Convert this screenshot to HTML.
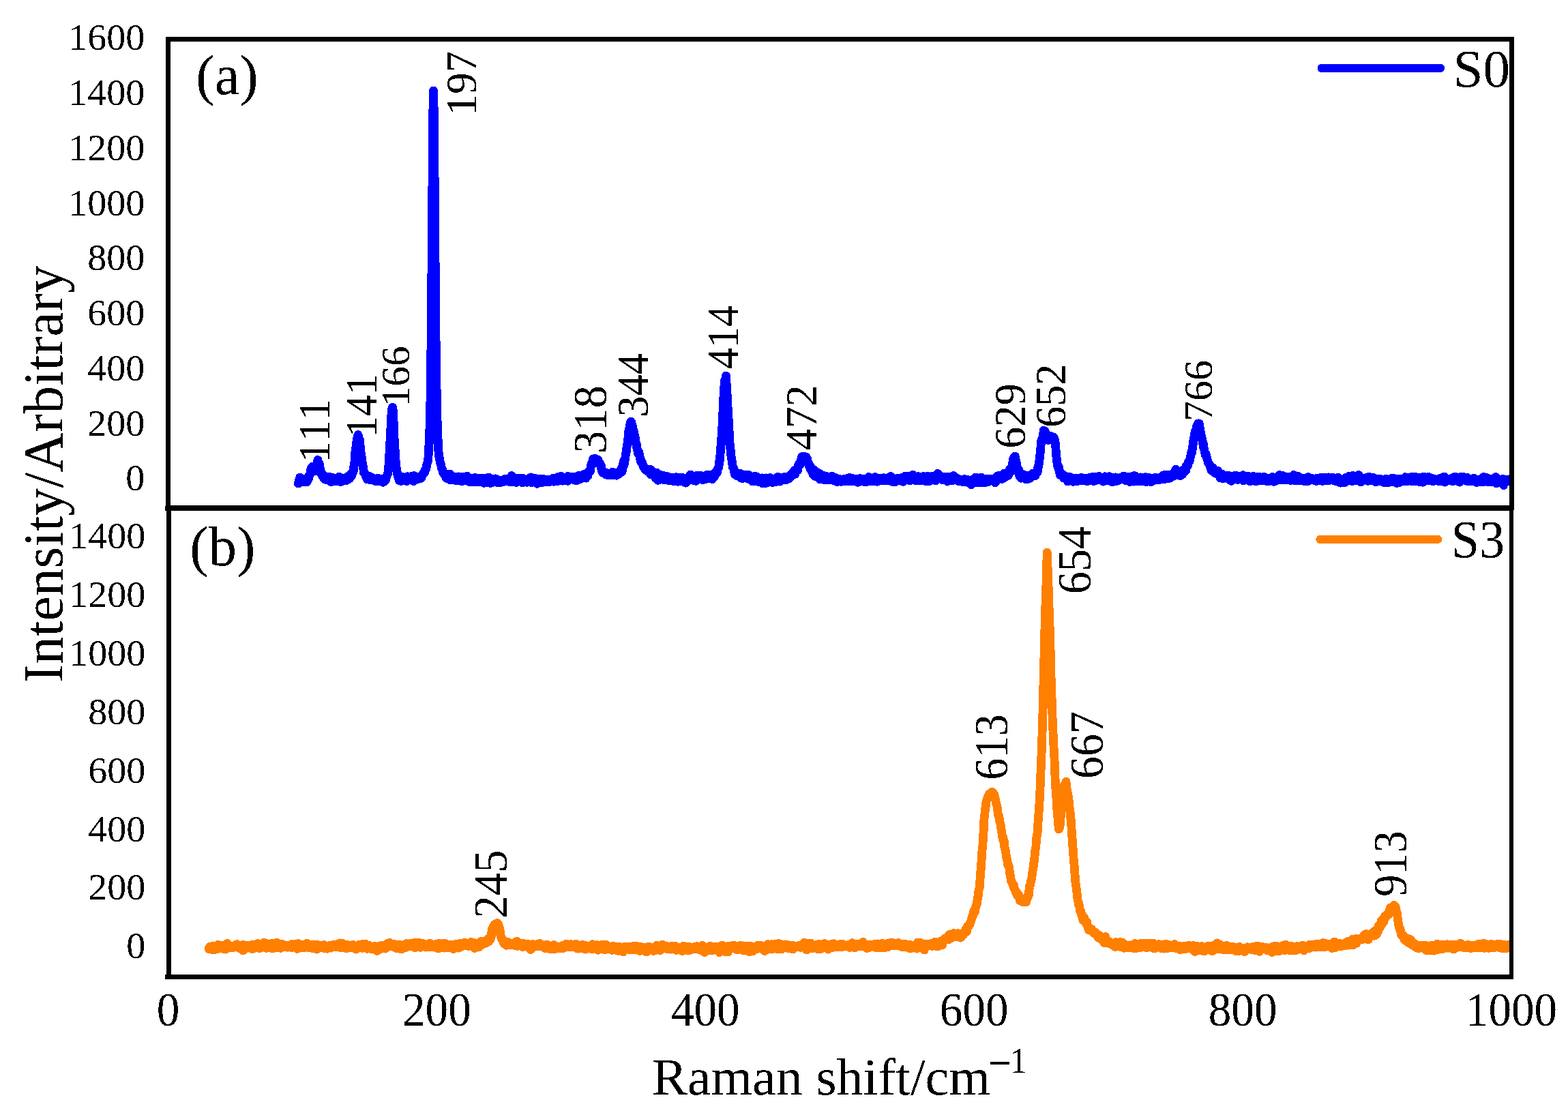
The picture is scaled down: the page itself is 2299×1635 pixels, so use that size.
<!DOCTYPE html>
<html lang="en"><head><meta charset="utf-8"><title>Raman spectra of S0 and S3</title>
<style>
html,body{margin:0;padding:0;background:#fff;}
body{width:2299px;height:1635px;overflow:hidden;}
svg{display:block;}
text{font-family:"Liberation Serif","DejaVu Serif",serif;fill:#000;font-kerning:none;font-variant-ligatures:none;}
</style></head><body>
<svg width="2299" height="1635" viewBox="0 0 2299 1635" role="img" aria-label="Raman spectra of samples S0 and S3">
<rect x="0" y="0" width="2299" height="1635" fill="#fff"/>
<defs>
<clipPath id="ct"><rect x="250" y="61" width="1963" height="680"/></clipPath>
<clipPath id="cb"><rect x="251" y="749" width="1962" height="680"/></clipPath>
<filter id="bw" filterUnits="userSpaceOnUse" x="0" y="0" width="2299" height="1635" color-interpolation-filters="sRGB"><feComponentTransfer><feFuncA type="discrete" tableValues="0 1"/></feComponentTransfer></filter>
</defs>
<g filter="url(#bw)">
<g clip-path="url(#ct)"><path d="M437.4 709.0L438.1 704.9L438.9 704.5L439.6 700.2L440.4 705.4L441.1 704.8L441.9 704.3L442.6 705.8L443.4 706.0L444.1 703.0L444.9 703.3L445.6 704.0L446.4 706.2L447.1 705.8L447.9 701.9L448.6 702.1L449.4 705.5L450.1 706.8L450.9 702.8L451.6 700.4L452.4 702.3L453.1 697.4L453.9 696.8L454.6 695.3L455.4 690.4L456.1 686.8L456.9 686.8L457.6 684.2L458.4 686.4L459.1 687.4L459.9 689.9L460.6 690.4L461.4 691.0L462.1 689.4L462.9 688.1L463.6 685.2L464.4 682.5L465.1 682.0L465.9 674.5L466.6 680.1L467.4 678.5L468.1 679.3L468.9 684.6L469.6 688.6L470.4 693.7L471.1 692.1L471.9 696.8L472.6 698.1L473.4 695.7L474.1 697.4L474.9 701.5L475.6 702.1L476.4 703.2L477.1 702.3L477.9 702.2L478.6 701.8L479.4 704.0L480.1 700.1L480.9 701.6L481.6 702.8L482.4 699.0L483.1 704.9L483.9 700.8L484.6 702.3L485.4 706.8L486.1 701.0L486.9 701.6L487.6 705.8L488.4 700.6L489.1 702.0L489.9 704.0L490.6 704.0L491.4 704.3L492.1 703.9L492.9 705.8L493.6 705.2L494.4 704.4L495.1 701.8L495.9 701.8L496.6 699.4L497.4 704.6L498.1 699.5L498.9 704.9L499.6 706.8L500.4 701.0L501.1 701.6L501.9 702.0L502.6 704.5L503.4 701.1L504.1 702.5L504.9 701.6L505.6 702.0L506.4 705.0L507.1 700.3L507.9 702.2L508.6 702.3L509.4 703.3L510.1 698.7L510.9 703.1L511.6 701.5L512.4 701.9L513.1 699.7L513.9 695.6L514.6 696.5L515.4 698.0L516.1 694.6L516.9 692.0L517.6 692.7L518.4 689.6L519.1 680.5L519.9 678.8L520.6 664.6L521.4 657.5L522.1 656.2L522.9 647.2L523.6 643.3L524.4 639.6L525.1 637.5L525.9 640.6L526.6 643.2L527.4 644.9L528.1 654.4L528.9 660.7L529.6 670.1L530.4 670.1L531.1 677.8L531.9 681.6L532.6 686.1L533.4 692.9L534.1 693.0L534.9 693.5L535.6 696.4L536.4 698.9L537.1 696.4L537.9 698.7L538.6 703.0L539.4 702.1L540.1 700.8L540.9 700.3L541.6 701.2L542.4 698.7L543.1 704.0L543.9 703.0L544.6 702.8L545.4 700.1L546.1 701.5L546.9 704.1L547.6 703.7L548.4 702.4L549.1 704.5L549.9 705.5L550.6 702.4L551.4 702.7L552.1 702.1L552.9 701.6L553.6 705.6L554.4 705.1L555.1 704.8L555.9 701.8L556.6 702.1L557.4 703.9L558.1 703.2L558.9 704.2L559.6 702.5L560.4 705.1L561.1 707.3L561.9 706.7L562.6 706.6L563.4 703.3L564.1 704.7L564.9 701.6L565.6 703.7L566.4 700.2L567.1 698.5L567.9 695.8L568.6 694.6L569.4 688.0L570.1 679.4L570.9 665.6L571.6 654.3L572.4 635.4L573.1 625.2L573.9 608.1L574.6 599.6L575.4 597.1L576.1 600.1L576.9 612.4L577.6 630.4L578.4 649.4L579.1 659.1L579.9 672.3L580.6 683.2L581.4 686.8L582.1 691.4L582.9 696.8L583.6 699.3L584.4 699.7L585.1 704.3L585.9 701.3L586.6 702.6L587.4 705.3L588.1 705.6L588.9 699.1L589.6 701.6L590.4 704.7L591.1 699.6L591.9 700.6L592.6 699.9L593.4 699.8L594.1 700.3L594.9 702.9L595.6 705.1L596.4 705.7L597.1 702.6L597.9 698.7L598.6 702.5L599.4 701.9L600.1 703.3L600.9 702.3L601.6 699.0L602.4 703.4L603.1 698.4L603.9 701.1L604.6 703.1L605.4 703.2L606.1 705.6L606.9 697.6L607.6 702.9L608.4 703.6L609.1 701.4L609.9 703.3L610.6 699.7L611.4 703.0L612.1 702.6L612.9 699.3L613.6 699.6L614.4 700.2L615.1 698.9L615.9 701.9L616.6 699.7L617.4 701.5L618.1 700.6L618.9 697.7L619.6 696.4L620.4 694.0L621.1 693.2L621.9 692.0L622.6 692.9L623.4 688.8L624.1 688.7L624.9 686.5L625.6 682.2L626.4 679.2L627.1 677.9L627.9 671.9L628.6 658.1L629.4 645.5L630.1 623.3L630.9 589.1L631.6 541.0L632.4 467.0L633.1 375.8L633.9 273.5L634.6 177.2L635.4 133.0L636.1 156.6L636.9 232.5L637.6 325.4L638.4 419.6L639.1 499.1L639.9 559.1L640.6 600.4L641.4 626.7L642.1 644.1L642.9 661.7L643.6 668.7L644.4 671.7L645.1 677.0L645.9 680.6L646.6 681.0L647.4 687.2L648.1 687.0L648.9 689.7L649.6 693.2L650.4 692.7L651.1 695.1L651.9 695.8L652.6 695.9L653.4 696.7L654.1 701.0L654.9 697.5L655.6 701.7L656.4 697.0L657.1 700.7L657.9 700.0L658.6 698.6L659.4 695.0L660.1 703.8L660.9 698.6L661.6 699.1L662.4 701.5L663.1 701.5L663.9 702.1L664.6 701.2L665.4 698.9L666.1 703.7L666.9 700.3L667.6 702.6L668.4 703.5L669.1 704.8L669.9 702.0L670.6 701.9L671.4 702.1L672.1 698.8L672.9 701.0L673.6 700.6L674.4 700.4L675.1 703.0L675.9 702.1L676.6 705.9L677.4 705.8L678.1 699.0L678.9 703.0L679.6 700.8L680.4 704.0L681.1 703.3L681.9 704.8L682.6 703.6L683.4 704.6L684.1 702.5L684.9 698.1L685.6 700.8L686.4 701.4L687.1 702.2L687.9 701.2L688.6 706.6L689.4 703.0L690.1 706.0L690.9 702.8L691.6 706.8L692.4 701.1L693.1 704.7L693.9 700.9L694.6 704.5L695.4 706.8L696.1 700.4L696.9 702.0L697.6 704.3L698.4 703.4L699.1 701.2L699.9 706.2L700.6 704.0L701.4 706.6L702.1 704.6L702.9 701.7L703.6 703.1L704.4 706.9L705.1 701.4L705.9 703.2L706.6 705.4L707.4 706.3L708.1 705.9L708.9 701.3L709.6 708.4L710.4 703.9L711.1 704.3L711.9 704.4L712.6 703.9L713.4 702.5L714.1 703.8L714.9 707.2L715.6 701.9L716.4 699.8L717.1 705.8L717.9 705.4L718.6 706.2L719.4 708.3L720.1 703.4L720.9 705.2L721.6 705.9L722.4 707.3L723.1 706.9L723.9 703.2L724.6 702.2L725.4 704.4L726.1 701.8L726.9 707.2L727.6 704.2L728.4 704.3L729.1 703.2L729.9 708.0L730.6 705.4L731.4 704.0L732.1 706.0L732.9 704.6L733.6 705.9L734.4 707.3L735.1 704.0L735.9 705.6L736.6 705.4L737.4 706.6L738.1 705.5L738.9 704.3L739.6 703.0L740.4 704.8L741.1 702.1L741.9 705.5L742.6 704.3L743.4 705.2L744.1 703.0L744.9 702.5L745.6 702.3L746.4 706.4L747.1 703.7L747.9 703.7L748.6 700.7L749.4 704.2L750.1 697.5L750.9 707.2L751.6 704.0L752.4 704.6L753.1 701.7L753.9 702.5L754.6 705.9L755.4 704.3L756.1 705.7L756.9 707.4L757.6 706.3L758.4 701.3L759.1 703.1L759.9 702.8L760.6 703.3L761.4 701.0L762.1 701.0L762.9 703.7L763.6 704.0L764.4 706.2L765.1 704.5L765.9 707.9L766.6 701.3L767.4 702.2L768.1 705.5L768.9 704.4L769.6 702.9L770.4 706.4L771.1 707.0L771.9 707.3L772.6 703.8L773.4 704.6L774.1 704.9L774.9 704.5L775.6 706.4L776.4 703.4L777.1 705.1L777.9 699.9L778.6 705.8L779.4 707.6L780.1 704.3L780.9 706.4L781.6 701.0L782.4 703.6L783.1 701.3L783.9 705.0L784.6 705.4L785.4 701.7L786.1 702.7L786.9 703.3L787.6 709.3L788.4 704.3L789.1 704.8L789.9 705.3L790.6 705.2L791.4 704.1L792.1 701.9L792.9 703.2L793.6 707.9L794.4 705.1L795.1 703.9L795.9 701.9L796.6 704.5L797.4 704.6L798.1 703.2L798.9 706.3L799.6 703.3L800.4 704.2L801.1 706.2L801.9 705.0L802.6 706.7L803.4 703.9L804.1 703.5L804.9 705.2L805.6 704.7L806.4 706.5L807.1 704.9L807.9 704.0L808.6 704.9L809.4 705.3L810.1 701.7L810.9 703.7L811.6 703.3L812.4 706.2L813.1 702.9L813.9 705.9L814.6 701.2L815.4 703.5L816.1 705.7L816.9 703.0L817.6 705.8L818.4 699.4L819.1 703.4L819.9 703.7L820.6 703.1L821.4 700.3L822.1 704.6L822.9 698.5L823.6 705.1L824.4 703.7L825.1 705.1L825.9 702.5L826.6 700.7L827.4 701.9L828.1 701.9L828.9 703.9L829.6 702.1L830.4 703.5L831.1 703.6L831.9 705.4L832.6 698.4L833.4 701.4L834.1 703.5L834.9 703.5L835.6 700.8L836.4 701.3L837.1 701.5L837.9 701.9L838.6 700.4L839.4 700.1L840.1 699.0L840.9 700.3L841.6 703.7L842.4 699.0L843.1 702.7L843.9 704.4L844.6 700.8L845.4 704.9L846.1 699.9L846.9 703.3L847.6 699.8L848.4 697.3L849.1 700.2L849.9 703.1L850.6 698.0L851.4 700.0L852.1 696.8L852.9 696.8L853.6 699.3L854.4 697.8L855.1 699.1L855.9 700.3L856.6 695.1L857.4 695.8L858.1 697.0L858.9 701.1L859.6 695.4L860.4 694.4L861.1 695.5L861.9 697.9L862.6 691.5L863.4 690.8L864.1 690.1L864.9 690.0L865.6 691.1L866.4 682.5L867.1 679.7L867.9 681.4L868.6 680.3L869.4 673.1L870.1 674.9L870.9 676.7L871.6 672.5L872.4 673.6L873.1 672.5L873.9 673.4L874.6 673.3L875.4 673.7L876.1 676.7L876.9 674.2L877.6 676.7L878.4 680.0L879.1 678.2L879.9 680.4L880.6 681.4L881.4 682.8L882.1 690.4L882.9 689.0L883.6 693.3L884.4 692.2L885.1 692.0L885.9 692.1L886.6 693.9L887.4 693.8L888.1 696.1L888.9 692.9L889.6 695.2L890.4 696.0L891.1 694.8L891.9 694.9L892.6 696.5L893.4 696.6L894.1 695.2L894.9 695.4L895.6 694.3L896.4 696.5L897.1 695.1L897.9 692.2L898.6 694.6L899.4 696.4L900.1 695.7L900.9 693.2L901.6 696.3L902.4 695.9L903.1 695.7L903.9 697.3L904.6 693.3L905.4 694.9L906.1 692.8L906.9 694.9L907.6 694.8L908.4 692.8L909.1 692.6L909.9 688.8L910.6 690.7L911.4 686.1L912.1 691.5L912.9 688.0L913.6 680.7L914.4 676.2L915.1 681.5L915.9 674.2L916.6 673.4L917.4 665.5L918.1 663.4L918.9 656.6L919.6 653.1L920.4 644.8L921.1 641.8L921.9 631.0L922.6 629.6L923.4 623.0L924.1 622.1L924.9 618.0L925.6 618.5L926.4 625.7L927.1 623.3L927.9 627.7L928.6 630.7L929.4 632.9L930.1 638.6L930.9 638.9L931.6 643.0L932.4 650.8L933.1 650.8L933.9 657.2L934.6 660.2L935.4 664.8L936.1 665.4L936.9 663.4L937.6 668.1L938.4 670.9L939.1 676.3L939.9 676.4L940.6 676.5L941.4 679.9L942.1 679.9L942.9 683.1L943.6 683.6L944.4 686.6L945.1 686.1L945.9 688.4L946.6 687.3L947.4 689.5L948.1 688.6L948.9 690.9L949.6 690.7L950.4 690.6L951.1 690.6L951.9 691.3L952.6 693.3L953.4 688.3L954.1 695.9L954.9 689.1L955.6 693.8L956.4 693.9L957.1 696.3L957.9 695.7L958.6 695.4L959.4 696.0L960.1 698.0L960.9 701.1L961.6 697.4L962.4 692.8L963.1 696.4L963.9 698.3L964.6 704.3L965.4 696.5L966.1 697.5L966.9 699.7L967.6 699.4L968.4 696.4L969.1 701.1L969.9 696.8L970.6 699.1L971.4 702.5L972.1 697.4L972.9 699.6L973.6 703.8L974.4 700.2L975.1 698.7L975.9 699.8L976.6 702.8L977.4 698.2L978.1 700.2L978.9 698.7L979.6 699.4L980.4 704.5L981.1 701.9L981.9 701.2L982.6 703.2L983.4 701.0L984.1 700.1L984.9 704.9L985.6 704.5L986.4 701.2L987.1 704.4L987.9 705.9L988.6 704.1L989.4 704.2L990.1 700.8L990.9 703.1L991.6 699.7L992.4 705.7L993.1 703.1L993.9 706.2L994.6 702.0L995.4 705.4L996.1 700.4L996.9 702.8L997.6 704.6L998.4 704.3L999.1 703.4L999.9 700.1L1000.6 706.0L1001.4 704.6L1002.1 705.4L1002.9 705.3L1003.6 702.2L1004.4 703.7L1005.1 708.2L1005.9 701.0L1006.6 703.3L1007.4 701.2L1008.1 705.7L1008.9 702.5L1009.6 699.9L1010.4 700.6L1011.1 698.8L1011.9 696.9L1012.6 695.9L1013.4 699.8L1014.1 698.9L1014.9 701.4L1015.6 699.3L1016.4 701.3L1017.1 704.4L1017.9 698.3L1018.6 698.1L1019.4 702.6L1020.1 705.3L1020.9 698.8L1021.6 697.1L1022.4 699.9L1023.1 699.7L1023.9 701.9L1024.7 698.4L1025.4 700.1L1026.2 699.9L1026.9 697.4L1027.7 697.5L1028.4 701.6L1029.2 701.8L1029.9 699.1L1030.7 703.9L1031.4 702.6L1032.2 701.7L1032.9 702.0L1033.7 701.4L1034.4 702.0L1035.2 702.3L1035.9 700.6L1036.7 696.1L1037.4 699.9L1038.2 698.4L1038.9 697.6L1039.7 701.0L1040.4 696.0L1041.2 701.0L1041.9 697.7L1042.7 696.2L1043.4 696.5L1044.2 702.7L1044.9 700.5L1045.7 696.5L1046.4 698.7L1047.2 699.6L1047.9 693.5L1048.7 693.8L1049.4 695.3L1050.2 693.1L1050.9 690.1L1051.7 692.4L1052.4 687.9L1053.2 685.6L1053.9 685.2L1054.7 676.7L1055.4 675.3L1056.2 663.3L1056.9 653.7L1057.7 644.0L1058.4 633.6L1059.2 619.8L1059.9 604.7L1060.7 586.1L1061.4 572.8L1062.2 562.6L1062.9 556.8L1063.7 555.8L1064.4 551.0L1065.2 563.6L1065.9 574.6L1066.7 588.9L1067.4 603.9L1068.2 615.8L1068.9 627.9L1069.7 644.4L1070.4 654.2L1071.2 660.6L1071.9 668.5L1072.7 673.3L1073.4 676.7L1074.2 684.7L1074.9 685.0L1075.7 686.5L1076.4 689.4L1077.2 695.5L1077.9 694.3L1078.7 694.7L1079.4 695.2L1080.2 697.4L1080.9 697.7L1081.7 694.0L1082.4 696.7L1083.2 696.2L1083.9 698.3L1084.7 698.0L1085.4 694.3L1086.2 700.9L1086.9 699.3L1087.7 695.4L1088.4 701.5L1089.2 699.6L1089.9 700.5L1090.7 699.7L1091.4 700.1L1092.2 698.9L1092.9 696.7L1093.7 699.0L1094.4 700.8L1095.2 700.6L1095.9 702.0L1096.7 700.6L1097.4 696.4L1098.2 702.6L1098.9 699.5L1099.7 698.6L1100.4 700.9L1101.2 698.9L1101.9 702.5L1102.7 700.1L1103.4 706.0L1104.2 701.7L1104.9 701.2L1105.7 701.2L1106.4 698.3L1107.2 701.1L1107.9 701.5L1108.7 702.5L1109.4 698.8L1110.2 703.5L1110.9 706.2L1111.7 702.8L1112.4 703.6L1113.2 704.7L1113.9 702.4L1114.7 703.2L1115.4 706.1L1116.2 704.7L1116.9 701.9L1117.7 700.8L1118.4 709.2L1119.2 705.5L1119.9 701.4L1120.7 705.0L1121.4 706.1L1122.2 705.0L1122.9 700.9L1123.7 708.4L1124.4 706.0L1125.2 704.4L1125.9 706.3L1126.7 704.4L1127.4 704.2L1128.2 706.7L1128.9 700.7L1129.7 706.8L1130.4 705.6L1131.2 706.2L1131.9 706.4L1132.7 707.7L1133.4 707.4L1134.2 706.1L1134.9 703.5L1135.7 705.6L1136.4 703.1L1137.2 702.1L1137.9 704.9L1138.7 704.6L1139.4 706.2L1140.2 699.4L1140.9 704.8L1141.7 704.8L1142.4 703.5L1143.2 706.2L1143.9 701.2L1144.7 703.5L1145.4 701.9L1146.2 702.4L1146.9 700.2L1147.7 701.7L1148.4 703.2L1149.2 701.8L1149.9 702.0L1150.7 699.5L1151.4 704.1L1152.2 699.2L1152.9 700.4L1153.7 701.2L1154.4 699.3L1155.2 701.0L1155.9 699.5L1156.7 702.2L1157.4 699.4L1158.2 698.7L1158.9 695.9L1159.7 698.0L1160.4 698.6L1161.2 696.9L1161.9 693.6L1162.7 693.7L1163.4 693.7L1164.2 693.4L1164.9 689.7L1165.7 695.4L1166.4 690.5L1167.2 689.9L1167.9 687.6L1168.7 687.3L1169.4 689.9L1170.2 682.7L1170.9 682.1L1171.7 679.5L1172.4 678.8L1173.2 681.3L1173.9 675.3L1174.7 673.9L1175.4 669.7L1176.2 671.2L1176.9 671.3L1177.7 669.2L1178.4 669.0L1179.2 671.5L1179.9 671.2L1180.7 670.6L1181.4 670.3L1182.2 670.1L1182.9 678.0L1183.7 673.0L1184.4 679.0L1185.2 678.9L1185.9 679.5L1186.7 684.3L1187.4 682.5L1188.2 687.9L1188.9 684.7L1189.7 689.0L1190.4 691.8L1191.2 688.4L1191.9 695.5L1192.7 694.0L1193.4 688.6L1194.2 696.6L1194.9 698.3L1195.7 694.6L1196.4 695.2L1197.2 696.9L1197.9 692.8L1198.7 697.3L1199.4 699.3L1200.2 696.6L1200.9 700.3L1201.7 702.7L1202.4 694.6L1203.2 695.1L1203.9 697.5L1204.7 700.4L1205.4 700.1L1206.2 697.6L1206.9 697.4L1207.7 698.4L1208.4 703.4L1209.2 698.2L1209.9 699.1L1210.7 702.3L1211.4 700.0L1212.2 698.6L1212.9 703.7L1213.7 701.6L1214.4 699.7L1215.2 700.4L1215.9 703.2L1216.7 700.7L1217.4 702.0L1218.2 703.4L1218.9 703.7L1219.7 698.2L1220.4 701.1L1221.2 701.5L1221.9 702.5L1222.7 704.0L1223.4 704.9L1224.2 701.8L1224.9 700.5L1225.7 703.3L1226.4 701.8L1227.2 706.6L1227.9 703.9L1228.7 703.3L1229.4 705.3L1230.2 702.0L1230.9 702.8L1231.7 703.2L1232.4 704.9L1233.2 706.2L1233.9 705.2L1234.7 705.1L1235.4 703.2L1236.2 704.4L1236.9 703.2L1237.7 705.9L1238.4 702.4L1239.2 703.5L1239.9 704.1L1240.7 705.2L1241.4 702.1L1242.2 703.1L1242.9 701.8L1243.7 700.8L1244.4 705.6L1245.2 704.3L1245.9 700.4L1246.7 701.3L1247.4 704.4L1248.2 702.0L1248.9 701.2L1249.7 705.8L1250.4 702.3L1251.2 702.6L1251.9 704.5L1252.7 702.0L1253.4 703.5L1254.2 703.8L1254.9 704.9L1255.7 702.0L1256.4 705.7L1257.2 704.3L1257.9 707.3L1258.7 704.2L1259.4 702.6L1260.2 702.7L1260.9 701.5L1261.7 703.9L1262.4 703.7L1263.2 705.7L1263.9 704.0L1264.7 702.2L1265.4 706.0L1266.2 703.1L1266.9 704.5L1267.7 706.9L1268.4 706.5L1269.2 702.5L1269.9 703.7L1270.7 706.6L1271.4 705.8L1272.2 704.9L1272.9 705.5L1273.7 699.4L1274.4 703.1L1275.2 700.7L1275.9 702.2L1276.7 702.7L1277.4 704.4L1278.2 705.7L1278.9 704.9L1279.7 703.8L1280.4 702.5L1281.2 705.8L1281.9 703.8L1282.7 699.6L1283.4 703.0L1284.2 704.1L1284.9 701.1L1285.7 703.5L1286.4 706.1L1287.2 702.6L1287.9 702.9L1288.7 703.0L1289.4 701.1L1290.2 702.2L1290.9 701.1L1291.7 702.5L1292.4 701.4L1293.2 705.0L1293.9 702.9L1294.7 704.9L1295.4 700.6L1296.2 703.1L1296.9 704.3L1297.7 704.6L1298.4 702.0L1299.2 703.0L1299.9 703.4L1300.7 702.5L1301.4 702.4L1302.2 704.3L1302.9 700.9L1303.7 699.7L1304.4 702.3L1305.2 703.9L1305.9 698.7L1306.7 706.0L1307.4 703.5L1308.2 704.5L1308.9 701.6L1309.7 703.2L1310.4 707.0L1311.2 707.1L1311.9 704.6L1312.7 702.8L1313.4 703.1L1314.2 706.0L1314.9 701.9L1315.7 701.4L1316.4 703.0L1317.2 705.1L1317.9 701.1L1318.7 704.0L1319.4 704.0L1320.2 703.5L1320.9 702.9L1321.7 705.0L1322.4 704.3L1323.2 700.2L1323.9 706.3L1324.7 704.0L1325.4 703.6L1326.2 702.2L1326.9 702.3L1327.7 697.8L1328.4 702.3L1329.2 703.9L1329.9 703.9L1330.7 701.2L1331.4 697.8L1332.2 700.2L1332.9 701.8L1333.7 704.9L1334.4 699.0L1335.2 702.3L1335.9 703.4L1336.7 703.4L1337.4 701.9L1338.2 696.4L1338.9 703.2L1339.7 702.3L1340.4 703.0L1341.2 700.1L1341.9 701.0L1342.7 705.0L1343.4 701.7L1344.2 701.9L1344.9 700.5L1345.7 704.5L1346.4 698.6L1347.2 700.9L1347.9 702.8L1348.7 701.9L1349.4 703.8L1350.2 702.9L1350.9 705.0L1351.7 701.6L1352.4 701.9L1353.2 702.7L1353.9 698.6L1354.7 705.1L1355.4 700.4L1356.2 704.7L1356.9 705.2L1357.7 704.3L1358.4 702.7L1359.2 701.0L1359.9 697.9L1360.7 703.5L1361.4 701.9L1362.2 705.8L1362.9 701.7L1363.7 703.5L1364.4 701.4L1365.2 703.0L1365.9 701.3L1366.7 701.7L1367.4 698.1L1368.2 700.4L1368.9 701.4L1369.7 704.2L1370.4 702.2L1371.2 699.1L1371.9 704.7L1372.7 702.0L1373.4 703.5L1374.2 699.4L1374.9 694.5L1375.7 699.5L1376.4 699.0L1377.2 701.5L1377.9 697.8L1378.7 699.1L1379.4 698.1L1380.2 701.2L1380.9 698.9L1381.7 703.6L1382.4 702.5L1383.2 702.7L1383.9 700.5L1384.7 701.5L1385.4 702.8L1386.2 699.4L1386.9 703.7L1387.7 701.2L1388.4 704.0L1389.2 706.0L1389.9 704.8L1390.7 699.4L1391.4 704.2L1392.2 701.2L1392.9 701.1L1393.7 701.6L1394.4 699.8L1395.2 702.8L1395.9 700.9L1396.7 704.8L1397.4 703.3L1398.2 697.5L1398.9 700.9L1399.7 701.0L1400.4 701.7L1401.2 701.9L1401.9 703.7L1402.7 703.0L1403.4 701.2L1404.2 704.4L1404.9 705.5L1405.7 703.8L1406.4 706.2L1407.2 704.8L1407.9 702.9L1408.7 703.3L1409.4 704.3L1410.2 705.4L1410.9 704.8L1411.7 706.6L1412.4 707.1L1413.2 702.8L1413.9 702.5L1414.7 704.8L1415.4 706.0L1416.2 707.0L1416.9 706.5L1417.7 706.6L1418.4 703.5L1419.2 706.2L1419.9 704.2L1420.7 706.4L1421.4 707.4L1422.2 704.2L1422.9 705.1L1423.7 710.7L1424.4 704.2L1425.2 704.7L1425.9 703.5L1426.7 702.7L1427.4 707.6L1428.2 704.3L1428.9 704.4L1429.7 704.0L1430.4 699.8L1431.2 706.9L1431.9 704.2L1432.7 705.1L1433.4 707.9L1434.2 704.8L1434.9 705.2L1435.7 705.2L1436.4 707.3L1437.2 701.9L1437.9 703.4L1438.7 700.0L1439.4 704.4L1440.2 705.5L1440.9 703.3L1441.7 708.1L1442.4 706.0L1443.2 707.9L1443.9 704.3L1444.7 707.5L1445.4 702.7L1446.2 704.5L1446.9 703.9L1447.7 702.7L1448.4 706.8L1449.2 706.1L1449.9 702.0L1450.7 704.7L1451.4 703.5L1452.2 703.6L1452.9 704.5L1453.7 702.2L1454.4 703.6L1455.2 703.8L1455.9 701.9L1456.7 702.0L1457.4 704.8L1458.2 703.1L1458.9 707.7L1459.7 707.2L1460.4 701.2L1461.2 703.2L1461.9 698.3L1462.7 700.9L1463.4 700.1L1464.2 700.1L1464.9 697.1L1465.7 701.7L1466.4 701.2L1467.2 698.8L1467.9 699.9L1468.7 701.6L1469.4 702.5L1470.2 696.1L1470.9 701.5L1471.7 694.4L1472.4 695.7L1473.2 696.1L1473.9 699.5L1474.7 697.2L1475.4 696.8L1476.2 698.4L1476.9 695.3L1477.7 693.6L1478.4 697.0L1479.2 693.0L1479.9 690.0L1480.7 687.9L1481.4 690.2L1482.2 691.7L1482.9 687.2L1483.7 683.0L1484.4 682.4L1485.2 673.9L1485.9 674.9L1486.7 670.7L1487.4 673.3L1488.2 669.0L1488.9 674.1L1489.7 675.8L1490.4 679.2L1491.2 684.3L1491.9 686.3L1492.7 692.6L1493.4 691.9L1494.2 690.0L1494.9 698.8L1495.7 699.8L1496.4 699.0L1497.2 701.3L1497.9 700.3L1498.7 697.5L1499.4 695.3L1500.2 697.4L1500.9 699.0L1501.7 700.7L1502.4 696.8L1503.2 697.8L1503.9 702.6L1504.7 698.1L1505.4 698.0L1506.2 697.5L1506.9 702.6L1507.7 700.7L1508.4 700.7L1509.2 702.0L1509.9 700.4L1510.7 700.9L1511.4 698.5L1512.2 699.2L1512.9 698.4L1513.7 698.2L1514.4 694.0L1515.2 695.5L1515.9 694.7L1516.7 693.7L1517.4 694.3L1518.2 697.3L1518.9 694.9L1519.7 692.2L1520.4 691.6L1521.2 692.2L1521.9 684.7L1522.7 684.9L1523.4 679.3L1524.2 672.4L1524.9 665.9L1525.7 659.9L1526.4 647.5L1527.2 645.1L1527.9 643.3L1528.7 641.9L1529.4 639.3L1530.2 631.0L1530.9 632.2L1531.7 633.0L1532.4 632.2L1533.2 636.0L1533.9 640.3L1534.7 641.9L1535.4 642.8L1536.2 644.4L1536.9 645.4L1537.7 642.6L1538.4 641.0L1539.2 641.5L1539.9 641.9L1540.7 642.6L1541.4 639.5L1542.2 640.7L1542.9 641.5L1543.7 644.5L1544.4 642.6L1545.2 641.3L1545.9 644.5L1546.7 645.7L1547.4 650.3L1548.2 661.2L1548.9 669.9L1549.7 676.5L1550.4 682.1L1551.2 683.0L1551.9 687.2L1552.7 685.5L1553.4 691.1L1554.2 696.6L1554.9 693.9L1555.7 695.7L1556.4 695.6L1557.2 695.1L1557.9 698.8L1558.7 698.2L1559.4 700.9L1560.2 697.3L1560.9 699.6L1561.7 699.2L1562.4 699.0L1563.2 702.6L1563.9 699.2L1564.7 699.4L1565.4 706.1L1566.2 701.1L1566.9 701.0L1567.7 702.4L1568.4 699.7L1569.2 702.5L1569.9 699.6L1570.7 701.2L1571.4 701.2L1572.2 705.2L1572.9 703.8L1573.7 706.3L1574.4 706.1L1575.2 701.4L1575.9 703.8L1576.7 701.9L1577.4 701.5L1578.2 705.2L1578.9 705.7L1579.7 703.1L1580.4 703.5L1581.2 703.5L1581.9 703.5L1582.7 703.5L1583.4 700.8L1584.2 704.0L1584.9 701.4L1585.7 700.3L1586.4 702.4L1587.2 703.2L1587.9 704.4L1588.7 703.5L1589.4 703.3L1590.2 701.4L1590.9 703.5L1591.7 703.1L1592.4 703.3L1593.2 701.2L1593.9 706.1L1594.7 704.2L1595.4 704.0L1596.2 702.8L1596.9 702.0L1597.7 704.4L1598.4 699.9L1599.2 701.6L1599.9 701.9L1600.7 703.7L1601.4 701.9L1602.2 705.3L1602.9 699.0L1603.7 705.6L1604.4 703.1L1605.2 704.3L1605.9 701.4L1606.7 704.5L1607.4 701.8L1608.2 702.9L1608.9 699.4L1609.7 703.4L1610.4 702.5L1611.2 698.4L1611.9 702.0L1612.7 701.6L1613.4 703.9L1614.2 700.9L1614.9 702.7L1615.7 704.9L1616.4 700.6L1617.2 706.1L1617.9 702.8L1618.7 701.9L1619.4 699.6L1620.2 698.7L1620.9 704.2L1621.7 701.4L1622.4 701.1L1623.2 704.5L1623.9 703.8L1624.7 702.7L1625.4 699.6L1626.2 698.6L1626.9 704.4L1627.7 702.4L1628.4 702.0L1629.2 706.3L1629.9 701.6L1630.7 703.2L1631.4 706.8L1632.2 703.7L1632.9 701.3L1633.7 700.6L1634.4 704.7L1635.2 699.8L1635.9 703.9L1636.7 705.5L1637.4 702.0L1638.2 703.9L1638.9 702.3L1639.7 704.9L1640.4 702.6L1641.2 700.6L1641.9 702.7L1642.7 702.3L1643.4 700.7L1644.2 701.5L1644.9 699.5L1645.7 700.2L1646.4 703.1L1647.2 698.1L1647.9 702.4L1648.7 701.9L1649.4 700.7L1650.2 704.8L1650.9 703.4L1651.7 700.9L1652.4 702.5L1653.2 703.9L1653.9 698.9L1654.7 702.6L1655.4 701.7L1656.2 703.1L1656.9 706.6L1657.7 701.1L1658.4 701.8L1659.2 700.2L1659.9 703.1L1660.7 703.9L1661.4 697.8L1662.2 705.7L1662.9 706.0L1663.7 697.5L1664.4 699.8L1665.2 703.9L1665.9 703.1L1666.7 705.4L1667.4 702.6L1668.2 705.8L1668.9 700.5L1669.7 704.0L1670.4 702.4L1671.2 702.4L1671.9 699.8L1672.7 702.5L1673.4 706.1L1674.2 702.1L1674.9 703.0L1675.7 703.7L1676.4 701.5L1677.2 704.0L1677.9 704.5L1678.7 702.9L1679.4 699.7L1680.2 706.5L1680.9 703.5L1681.7 703.4L1682.4 702.9L1683.2 702.2L1683.9 700.0L1684.7 703.2L1685.4 703.6L1686.2 705.3L1686.9 706.6L1687.7 701.7L1688.4 706.4L1689.2 703.4L1689.9 704.3L1690.7 701.1L1691.4 703.7L1692.2 701.1L1692.9 704.2L1693.7 700.3L1694.4 702.8L1695.2 701.7L1695.9 703.2L1696.7 702.9L1697.4 702.6L1698.2 701.1L1698.9 703.8L1699.7 703.0L1700.4 700.2L1701.2 703.1L1701.9 700.2L1702.7 701.4L1703.4 700.9L1704.2 700.7L1704.9 702.2L1705.7 696.8L1706.4 702.8L1707.2 696.4L1707.9 702.3L1708.7 700.7L1709.4 696.4L1710.2 699.9L1710.9 698.3L1711.7 696.4L1712.4 701.0L1713.2 700.6L1713.9 698.9L1714.7 701.3L1715.4 698.0L1716.2 697.0L1716.9 700.0L1717.7 695.6L1718.4 698.5L1719.2 698.9L1719.9 697.0L1720.7 696.5L1721.4 697.1L1722.2 696.4L1722.9 694.3L1723.7 688.3L1724.4 694.3L1725.2 692.1L1725.9 696.8L1726.7 693.7L1727.4 694.9L1728.2 695.7L1728.9 695.9L1729.7 691.6L1730.4 697.5L1731.2 694.6L1731.9 693.7L1732.7 690.1L1733.4 695.6L1734.2 692.2L1734.9 692.5L1735.7 688.9L1736.4 692.6L1737.2 690.9L1737.9 686.8L1738.7 690.0L1739.4 682.6L1740.2 685.2L1740.9 683.4L1741.7 681.9L1742.4 677.4L1743.2 676.2L1743.9 676.7L1744.7 674.6L1745.4 669.7L1746.2 666.5L1746.9 662.9L1747.7 663.4L1748.4 656.7L1749.2 652.1L1749.9 645.2L1750.7 641.4L1751.4 638.6L1752.2 632.7L1752.9 632.3L1753.7 629.3L1754.4 625.2L1755.2 624.5L1755.9 624.2L1756.7 620.8L1757.4 626.6L1758.2 621.2L1758.9 632.9L1759.7 628.7L1760.4 635.0L1761.2 637.7L1761.9 642.8L1762.7 644.1L1763.4 650.4L1764.2 649.6L1764.9 657.7L1765.7 658.8L1766.4 663.1L1767.2 667.1L1767.9 665.2L1768.7 668.9L1769.4 670.8L1770.2 674.1L1770.9 676.4L1771.7 679.2L1772.4 679.8L1773.2 680.5L1773.9 683.3L1774.7 685.6L1775.4 686.7L1776.2 690.0L1776.9 685.5L1777.7 688.1L1778.4 685.8L1779.2 688.0L1779.9 691.4L1780.7 693.4L1781.4 690.5L1782.2 693.1L1782.9 692.9L1783.7 694.4L1784.4 694.4L1785.2 693.5L1785.9 690.4L1786.7 692.4L1787.4 696.6L1788.2 696.0L1788.9 700.8L1789.7 697.1L1790.4 699.1L1791.2 695.2L1791.9 695.1L1792.7 698.6L1793.4 701.8L1794.2 699.5L1794.9 698.3L1795.7 699.9L1796.4 700.5L1797.2 700.4L1797.9 699.7L1798.7 697.7L1799.4 697.7L1800.2 699.0L1800.9 699.9L1801.7 697.5L1802.4 703.4L1803.2 701.5L1803.9 699.3L1804.7 701.9L1805.4 705.3L1806.2 700.9L1806.9 700.9L1807.7 702.6L1808.4 697.8L1809.2 699.3L1809.9 699.0L1810.7 702.1L1811.4 697.2L1812.2 701.2L1812.9 699.6L1813.7 700.0L1814.4 699.4L1815.2 703.5L1815.9 698.8L1816.7 698.1L1817.4 701.1L1818.2 699.3L1818.9 701.6L1819.7 700.5L1820.4 700.7L1821.2 700.7L1821.9 697.2L1822.7 696.7L1823.4 704.8L1824.2 698.4L1824.9 701.8L1825.7 698.6L1826.4 700.7L1827.2 700.5L1827.9 704.0L1828.7 700.8L1829.4 698.1L1830.2 698.4L1830.9 702.0L1831.7 703.2L1832.4 705.6L1833.2 706.0L1833.9 698.9L1834.7 701.6L1835.4 699.5L1836.2 702.6L1836.9 703.7L1837.7 698.5L1838.4 703.9L1839.2 703.7L1839.9 701.9L1840.7 701.2L1841.4 705.9L1842.2 702.3L1842.9 700.5L1843.7 703.0L1844.4 704.9L1845.2 704.3L1845.9 698.9L1846.7 700.1L1847.4 702.0L1848.2 703.2L1848.9 703.2L1849.7 700.3L1850.4 704.7L1851.2 703.8L1851.9 699.6L1852.7 700.9L1853.4 702.5L1854.2 699.7L1854.9 702.8L1855.7 703.0L1856.4 701.7L1857.2 703.7L1857.9 706.1L1858.7 701.1L1859.4 703.3L1860.2 701.4L1860.9 705.4L1861.7 704.7L1862.4 702.1L1863.2 700.9L1863.9 703.7L1864.7 701.9L1865.4 699.5L1866.2 699.9L1866.9 701.6L1867.7 706.3L1868.4 704.0L1869.2 704.6L1869.9 703.7L1870.7 704.6L1871.4 704.8L1872.2 699.5L1872.9 703.0L1873.7 703.1L1874.4 702.8L1875.2 702.6L1875.9 696.7L1876.7 702.1L1877.4 699.0L1878.2 703.7L1878.9 700.7L1879.7 701.2L1880.4 701.6L1881.2 697.5L1881.9 701.2L1882.7 699.1L1883.4 703.5L1884.2 700.4L1884.9 699.2L1885.7 704.0L1886.4 700.9L1887.2 699.5L1887.9 701.3L1888.7 701.1L1889.4 701.9L1890.2 699.4L1890.9 703.6L1891.7 702.0L1892.4 704.6L1893.2 702.5L1893.9 699.4L1894.7 703.5L1895.4 700.9L1896.2 701.6L1896.9 696.5L1897.7 699.0L1898.4 704.3L1899.2 703.9L1899.9 698.1L1900.7 702.3L1901.4 702.5L1902.2 704.4L1902.9 699.7L1903.7 698.5L1904.4 702.7L1905.2 700.8L1905.9 701.1L1906.7 700.5L1907.4 704.9L1908.2 700.8L1908.9 704.5L1909.7 703.8L1910.4 701.3L1911.2 704.7L1911.9 705.3L1912.7 703.5L1913.4 702.4L1914.2 704.4L1914.9 701.5L1915.7 704.0L1916.4 706.1L1917.2 700.3L1917.9 699.4L1918.7 704.6L1919.4 701.4L1920.2 702.2L1920.9 703.4L1921.7 701.8L1922.4 703.3L1923.2 701.0L1923.9 701.9L1924.7 702.8L1925.4 704.1L1926.2 702.1L1926.9 703.6L1927.7 704.1L1928.4 703.9L1929.2 702.6L1929.9 705.5L1930.7 701.3L1931.4 705.0L1932.2 704.9L1932.9 704.6L1933.7 701.8L1934.4 704.7L1935.2 703.7L1935.9 700.5L1936.7 702.1L1937.4 700.1L1938.2 703.4L1938.9 705.4L1939.7 704.4L1940.4 700.6L1941.2 700.6L1941.9 702.2L1942.7 702.3L1943.4 704.1L1944.2 702.0L1944.9 704.9L1945.7 701.6L1946.4 704.7L1947.2 699.8L1947.9 701.6L1948.7 702.8L1949.4 704.4L1950.2 703.8L1950.9 701.2L1951.7 700.3L1952.4 702.9L1953.2 702.8L1953.9 702.3L1954.7 703.1L1955.4 700.6L1956.2 704.3L1956.9 705.3L1957.7 701.5L1958.4 701.7L1959.2 705.9L1959.9 705.7L1960.7 702.0L1961.4 702.3L1962.2 700.2L1962.9 704.7L1963.7 704.1L1964.4 703.7L1965.2 708.2L1965.9 703.3L1966.7 703.3L1967.4 704.1L1968.2 703.1L1968.9 705.7L1969.7 703.0L1970.4 703.5L1971.2 707.7L1971.9 702.0L1972.7 700.7L1973.4 703.2L1974.2 701.6L1974.9 701.4L1975.7 703.0L1976.4 704.2L1977.2 699.3L1977.9 701.8L1978.7 697.9L1979.4 703.8L1980.2 699.8L1980.9 703.1L1981.7 705.3L1982.4 704.3L1983.2 702.4L1983.9 697.5L1984.7 705.2L1985.4 700.6L1986.2 703.1L1986.9 700.5L1987.7 700.9L1988.4 704.7L1989.2 698.1L1989.9 699.0L1990.7 700.9L1991.4 703.6L1992.2 696.6L1992.9 704.2L1993.7 700.9L1994.4 703.1L1995.2 707.0L1995.9 702.8L1996.7 704.1L1997.4 704.7L1998.2 701.4L1998.9 702.3L1999.7 701.7L2000.4 702.6L2001.2 701.6L2001.9 701.3L2002.7 701.2L2003.4 703.9L2004.2 699.8L2004.9 702.7L2005.7 705.3L2006.4 699.8L2007.2 699.1L2007.9 704.0L2008.7 701.1L2009.4 701.3L2010.2 704.1L2010.9 703.5L2011.7 701.6L2012.4 702.4L2013.2 700.1L2013.9 702.0L2014.7 703.1L2015.4 704.5L2016.2 704.6L2016.9 707.0L2017.7 703.5L2018.4 705.7L2019.2 704.3L2019.9 701.9L2020.7 704.6L2021.4 704.7L2022.2 705.4L2022.9 705.2L2023.7 704.6L2024.4 702.6L2025.2 703.8L2025.9 705.0L2026.7 705.8L2027.4 706.3L2028.2 705.5L2028.9 706.1L2029.7 707.8L2030.4 705.3L2031.2 703.9L2031.9 702.1L2032.7 705.1L2033.4 706.2L2034.2 704.3L2034.9 708.0L2035.7 703.3L2036.4 704.2L2037.2 704.9L2037.9 702.5L2038.7 707.0L2039.4 703.4L2040.2 702.4L2040.9 701.1L2041.7 706.6L2042.4 707.2L2043.2 702.6L2043.9 701.7L2044.7 703.7L2045.4 704.5L2046.2 703.4L2046.9 705.4L2047.7 702.2L2048.4 708.4L2049.2 705.0L2049.9 706.3L2050.7 703.5L2051.4 706.2L2052.2 707.5L2052.9 702.7L2053.7 704.5L2054.4 706.1L2055.2 704.9L2055.9 702.4L2056.7 703.2L2057.4 705.3L2058.2 704.8L2058.9 702.9L2059.7 704.9L2060.4 699.7L2061.2 704.3L2061.9 706.1L2062.7 706.0L2063.4 703.3L2064.2 704.6L2064.9 704.5L2065.7 703.9L2066.4 702.4L2067.2 701.1L2067.9 702.6L2068.7 701.3L2069.4 699.4L2070.2 705.9L2070.9 700.5L2071.7 702.0L2072.4 701.9L2073.2 699.6L2073.9 703.6L2074.7 699.4L2075.4 706.2L2076.2 699.7L2076.9 700.9L2077.7 702.0L2078.4 702.0L2079.2 702.2L2079.9 704.4L2080.7 704.8L2081.4 706.9L2082.2 700.0L2082.9 704.6L2083.7 703.8L2084.4 701.8L2085.2 699.8L2085.9 707.3L2086.7 704.8L2087.4 698.8L2088.2 705.6L2088.9 703.5L2089.7 703.0L2090.4 704.2L2091.2 701.3L2091.9 702.4L2092.7 704.6L2093.4 700.4L2094.2 700.0L2094.9 699.5L2095.7 704.4L2096.4 700.8L2097.2 702.2L2097.9 702.0L2098.7 704.2L2099.4 703.8L2100.2 701.5L2100.9 705.9L2101.7 704.0L2102.4 703.9L2103.2 702.3L2103.9 702.5L2104.7 702.8L2105.4 703.3L2106.2 704.1L2106.9 704.2L2107.7 702.8L2108.4 703.1L2109.2 704.8L2109.9 705.8L2110.7 705.9L2111.4 703.3L2112.2 700.8L2112.9 703.7L2113.7 703.7L2114.4 703.5L2115.2 704.5L2115.9 702.5L2116.7 703.7L2117.4 698.8L2118.2 707.1L2118.9 703.5L2119.7 702.8L2120.4 704.5L2121.2 703.0L2121.9 701.9L2122.7 705.1L2123.4 703.5L2124.2 702.0L2124.9 704.7L2125.7 704.2L2126.4 704.0L2127.2 702.6L2127.9 705.2L2128.7 701.2L2129.4 704.7L2130.2 706.0L2130.9 701.0L2131.7 703.2L2132.4 699.1L2133.2 702.7L2133.9 699.2L2134.7 699.8L2135.4 702.9L2136.2 704.5L2136.9 703.3L2137.7 701.9L2138.4 700.7L2139.2 702.4L2139.9 707.1L2140.7 705.1L2141.4 699.6L2142.2 700.9L2142.9 699.5L2143.7 703.6L2144.4 701.8L2145.2 699.4L2145.9 702.2L2146.7 701.6L2147.4 700.5L2148.2 702.0L2148.9 704.6L2149.7 701.0L2150.4 702.3L2151.2 700.2L2151.9 702.3L2152.7 706.0L2153.4 704.4L2154.2 701.9L2154.9 702.2L2155.7 706.0L2156.4 703.3L2157.2 702.6L2157.9 705.9L2158.7 702.9L2159.4 702.3L2160.2 704.6L2160.9 701.1L2161.7 702.9L2162.4 702.2L2163.2 704.1L2163.9 703.5L2164.7 707.5L2165.4 705.1L2166.2 703.8L2166.9 704.8L2167.7 703.2L2168.4 704.2L2169.2 704.7L2169.9 704.4L2170.7 706.3L2171.4 704.5L2172.2 701.9L2172.9 703.8L2173.7 700.9L2174.4 707.2L2175.2 699.4L2175.9 702.8L2176.7 704.1L2177.4 701.1L2178.2 702.1L2178.9 705.0L2179.7 700.6L2180.4 704.9L2181.2 702.5L2181.9 702.3L2182.7 707.0L2183.4 704.6L2184.2 703.9L2184.9 702.6L2185.7 703.6L2186.4 702.9L2187.2 707.0L2187.9 703.8L2188.7 702.0L2189.4 702.7L2190.2 704.6L2190.9 701.7L2191.7 702.4L2192.4 700.8L2193.2 699.5L2193.9 708.9L2194.7 704.0L2195.4 708.1L2196.2 705.8L2196.9 705.3L2197.7 702.8L2198.4 705.0L2199.2 705.6L2199.9 703.6L2200.7 706.9L2201.4 708.0L2202.2 706.6L2202.9 706.1L2203.7 702.4L2204.4 711.5L2205.2 707.4L2205.9 703.5L2206.7 703.6L2207.4 704.5L2208.2 703.8L2208.9 705.9L2209.7 704.0L2210.4 706.0L2211.2 704.7L2211.9 705.0L2212.7 703.0L2213.4 705.7L2214.2 705.7L2214.9 703.3L2215.7 701.5L2216.4 704.8L2217.2 700.9L2217.9 702.8L2218.7 705.1L2219.4 706.6L2220.2 703.3L2220.9 704.4L2221.7 706.2L2222.4 701.3L2223.2 702.5L2223.9 703.8L2224.7 705.7" fill="none" stroke="#0000ff" stroke-width="12.8" stroke-linejoin="round" stroke-linecap="round"/></g>
<g clip-path="url(#cb)"><path d="M306.0 1391.3L306.8 1390.1L307.5 1388.5L308.2 1391.9L309.0 1391.4L309.8 1387.8L310.5 1389.2L311.2 1387.6L312.0 1387.1L312.8 1393.2L313.5 1388.9L314.2 1390.9L315.0 1390.1L315.8 1389.5L316.5 1387.2L317.2 1387.2L318.0 1390.1L318.8 1391.4L319.5 1385.4L320.2 1387.1L321.0 1388.5L321.8 1391.0L322.5 1389.9L323.2 1390.3L324.0 1389.2L324.8 1386.7L325.5 1388.3L326.2 1391.0L327.0 1388.7L327.8 1386.0L328.5 1391.3L329.2 1389.3L330.0 1389.8L330.8 1392.2L331.5 1387.2L332.2 1386.9L333.0 1383.3L333.8 1388.5L334.5 1389.3L335.2 1388.0L336.0 1388.1L336.8 1389.9L337.5 1388.9L338.2 1388.9L339.0 1387.9L339.8 1387.9L340.5 1390.1L341.2 1387.8L342.0 1387.1L342.8 1386.8L343.5 1387.7L344.2 1388.3L345.0 1388.9L345.8 1388.1L346.5 1387.2L347.2 1384.6L348.0 1389.0L348.8 1385.8L349.5 1387.5L350.2 1390.2L351.0 1388.3L351.8 1386.1L352.5 1389.1L353.2 1387.2L354.0 1386.7L354.8 1390.2L355.5 1389.0L356.2 1394.0L357.0 1385.5L357.8 1387.6L358.5 1388.4L359.2 1390.2L360.0 1387.0L360.8 1390.6L361.5 1387.8L362.2 1386.0L363.0 1387.2L363.8 1387.4L364.5 1387.2L365.2 1386.3L366.0 1387.0L366.8 1389.4L367.5 1389.1L368.2 1391.1L369.0 1385.6L369.8 1385.2L370.5 1391.5L371.2 1388.0L372.0 1388.0L372.8 1385.5L373.5 1388.0L374.2 1387.4L375.0 1387.3L375.8 1389.5L376.5 1385.6L377.2 1387.5L378.0 1383.6L378.8 1388.0L379.5 1384.9L380.2 1390.8L381.0 1384.5L381.8 1390.4L382.5 1385.5L383.2 1383.9L384.0 1387.6L384.8 1387.6L385.5 1385.2L386.2 1384.6L387.0 1382.3L387.8 1386.5L388.5 1387.8L389.2 1383.0L390.0 1387.3L390.8 1390.3L391.5 1383.5L392.2 1388.2L393.0 1388.1L393.8 1385.8L394.5 1387.6L395.2 1384.8L396.0 1387.9L396.8 1390.2L397.5 1386.3L398.2 1385.8L399.0 1382.9L399.8 1390.7L400.5 1390.6L401.2 1385.9L402.0 1387.0L402.8 1386.6L403.5 1389.4L404.2 1383.5L405.0 1388.1L405.8 1382.3L406.5 1388.1L407.2 1385.3L408.0 1389.5L408.8 1387.9L409.5 1385.6L410.2 1385.4L411.0 1384.5L411.8 1390.3L412.5 1389.0L413.2 1385.7L414.0 1384.3L414.8 1388.0L415.5 1387.1L416.2 1386.1L417.0 1387.4L417.8 1388.6L418.5 1387.2L419.2 1388.6L420.0 1387.3L420.8 1388.0L421.5 1386.4L422.2 1389.2L423.0 1387.9L423.8 1387.0L424.5 1388.1L425.2 1387.3L426.0 1387.4L426.8 1388.8L427.5 1389.5L428.2 1384.5L429.0 1387.5L429.8 1388.0L430.5 1385.6L431.2 1388.7L432.0 1387.4L432.8 1386.8L433.5 1384.4L434.2 1385.0L435.0 1388.1L435.8 1391.4L436.5 1387.0L437.2 1383.6L438.0 1390.2L438.8 1388.1L439.5 1390.0L440.2 1386.4L441.0 1389.4L441.8 1388.3L442.5 1385.1L443.2 1386.9L444.0 1387.8L444.8 1385.7L445.5 1389.8L446.2 1386.5L447.0 1389.0L447.8 1386.7L448.5 1388.5L449.2 1388.3L450.0 1383.3L450.8 1386.7L451.5 1388.6L452.2 1386.4L453.0 1390.1L453.8 1389.7L454.5 1385.5L455.2 1387.4L456.0 1388.1L456.8 1385.7L457.5 1390.4L458.2 1388.7L459.0 1387.3L459.8 1385.6L460.5 1385.5L461.2 1385.7L462.0 1388.8L462.8 1385.5L463.5 1389.1L464.2 1392.1L465.0 1384.8L465.8 1386.3L466.5 1389.9L467.2 1388.4L468.0 1386.1L468.8 1387.8L469.5 1387.9L470.2 1389.5L471.0 1386.3L471.8 1387.6L472.5 1388.0L473.2 1389.0L474.0 1387.9L474.8 1385.5L475.5 1385.8L476.2 1390.9L477.0 1387.6L477.8 1388.8L478.5 1388.6L479.2 1389.3L480.0 1391.2L480.8 1388.5L481.5 1390.0L482.2 1389.4L483.0 1388.8L483.8 1386.1L484.5 1387.3L485.2 1390.0L486.0 1387.4L486.8 1387.3L487.5 1387.3L488.2 1385.4L489.0 1386.0L489.8 1388.0L490.5 1385.7L491.2 1384.9L492.0 1388.8L492.8 1388.9L493.5 1387.1L494.2 1385.2L495.0 1389.1L495.8 1388.0L496.5 1383.9L497.2 1385.1L498.0 1384.1L498.8 1382.8L499.5 1389.6L500.2 1389.9L501.0 1382.8L501.8 1388.2L502.5 1386.8L503.2 1387.7L504.0 1388.8L504.8 1388.9L505.5 1387.3L506.2 1386.2L507.0 1388.6L507.8 1390.9L508.5 1384.9L509.2 1385.9L510.0 1387.1L510.8 1385.8L511.5 1386.7L512.2 1389.3L513.0 1388.4L513.8 1387.3L514.5 1387.6L515.2 1386.2L516.0 1389.3L516.8 1386.7L517.5 1385.5L518.2 1386.6L519.0 1387.8L519.8 1390.8L520.5 1387.8L521.2 1387.0L522.0 1392.1L522.8 1387.7L523.5 1390.4L524.2 1388.8L525.0 1389.2L525.8 1385.7L526.5 1388.7L527.2 1387.1L528.0 1385.8L528.8 1388.8L529.5 1387.8L530.2 1388.5L531.0 1390.3L531.8 1384.0L532.5 1389.0L533.2 1385.4L534.0 1385.2L534.8 1388.6L535.5 1387.8L536.2 1384.2L537.0 1388.6L537.8 1389.3L538.5 1391.4L539.2 1391.0L540.0 1389.0L540.8 1386.1L541.5 1388.8L542.2 1390.2L543.0 1390.8L543.8 1391.4L544.5 1389.9L545.2 1390.4L546.0 1388.6L546.8 1389.0L547.5 1390.7L548.2 1391.4L549.0 1387.3L549.8 1388.7L550.5 1389.1L551.2 1390.8L552.0 1389.4L552.8 1394.2L553.5 1389.6L554.2 1387.7L555.0 1388.7L555.8 1387.9L556.5 1388.5L557.2 1389.2L558.0 1391.4L558.8 1391.0L559.5 1389.2L560.2 1385.9L561.0 1388.7L561.8 1386.1L562.5 1387.3L563.2 1388.3L564.0 1387.0L564.8 1391.1L565.5 1386.9L566.2 1386.0L567.0 1386.1L567.8 1388.3L568.5 1383.1L569.2 1385.3L570.0 1383.9L570.8 1385.5L571.5 1382.5L572.2 1385.4L573.0 1387.8L573.8 1384.6L574.5 1388.2L575.2 1384.8L576.0 1385.8L576.8 1384.0L577.5 1387.4L578.2 1387.4L579.0 1386.8L579.8 1388.5L580.5 1385.8L581.2 1390.4L582.0 1387.2L582.8 1385.4L583.5 1386.5L584.2 1387.1L585.0 1384.9L585.8 1385.2L586.5 1390.6L587.2 1388.5L588.0 1389.5L588.8 1392.2L589.5 1388.9L590.2 1386.0L591.0 1389.2L591.8 1386.1L592.5 1389.7L593.2 1388.7L594.0 1389.6L594.8 1385.5L595.5 1383.6L596.2 1387.6L597.0 1388.4L597.8 1386.8L598.5 1385.9L599.2 1385.8L600.0 1385.5L600.8 1387.3L601.5 1383.3L602.2 1385.5L603.0 1387.1L603.8 1385.7L604.5 1384.7L605.2 1384.7L606.0 1386.3L606.8 1386.9L607.5 1382.4L608.2 1389.7L609.0 1386.1L609.8 1385.3L610.5 1383.2L611.2 1383.9L612.0 1386.9L612.8 1386.2L613.5 1381.8L614.2 1383.7L615.0 1385.2L615.8 1383.8L616.5 1389.4L617.2 1388.2L618.0 1385.1L618.8 1382.9L619.5 1386.4L620.2 1385.5L621.0 1385.5L621.8 1384.2L622.5 1388.0L623.2 1386.6L624.0 1389.1L624.8 1388.5L625.5 1386.1L626.2 1387.3L627.0 1385.8L627.8 1387.4L628.5 1385.3L629.2 1388.6L630.0 1383.1L630.8 1388.1L631.5 1387.4L632.2 1388.9L633.0 1385.6L633.8 1387.8L634.5 1388.7L635.2 1387.3L636.0 1387.8L636.8 1387.4L637.5 1386.6L638.2 1386.5L639.0 1384.5L639.8 1387.8L640.5 1387.4L641.2 1390.5L642.0 1385.8L642.8 1390.5L643.5 1389.7L644.2 1383.0L645.0 1387.3L645.8 1390.0L646.5 1387.4L647.2 1388.9L648.0 1389.4L648.8 1386.1L649.5 1388.4L650.2 1387.3L651.0 1390.0L651.8 1382.8L652.5 1386.9L653.2 1385.4L654.0 1387.3L654.8 1388.5L655.5 1388.1L656.2 1387.5L657.0 1389.4L657.8 1386.2L658.5 1389.6L659.2 1387.9L660.0 1385.3L660.8 1388.1L661.5 1388.3L662.2 1387.8L663.0 1385.2L663.8 1387.5L664.5 1391.5L665.2 1391.2L666.0 1385.6L666.8 1386.9L667.5 1386.1L668.2 1384.2L669.0 1384.0L669.8 1386.5L670.5 1389.1L671.2 1388.3L672.0 1388.9L672.8 1390.1L673.5 1384.9L674.2 1385.7L675.0 1383.0L675.8 1385.3L676.5 1386.6L677.2 1388.0L678.0 1383.4L678.8 1384.2L679.5 1385.1L680.2 1384.9L681.0 1382.1L681.8 1386.3L682.5 1384.3L683.2 1384.3L684.0 1383.7L684.8 1384.7L685.5 1383.8L686.2 1384.7L687.0 1387.4L687.8 1384.9L688.5 1385.8L689.2 1385.0L690.0 1382.1L690.8 1381.3L691.5 1386.1L692.2 1383.6L693.0 1384.7L693.8 1383.8L694.5 1382.6L695.2 1387.9L696.0 1390.7L696.8 1388.0L697.5 1382.9L698.2 1384.4L699.0 1386.0L699.8 1383.1L700.5 1385.0L701.2 1385.9L702.0 1389.0L702.8 1382.2L703.5 1385.5L704.2 1382.9L705.0 1380.4L705.8 1385.8L706.5 1380.2L707.2 1382.6L708.0 1384.2L708.8 1382.4L709.5 1381.0L710.2 1383.3L711.0 1380.0L711.8 1379.3L712.5 1383.1L713.2 1380.5L714.0 1378.5L714.8 1377.4L715.5 1378.4L716.2 1381.1L717.0 1377.0L717.8 1377.1L718.5 1378.2L719.2 1376.5L720.0 1369.1L720.8 1372.3L721.5 1362.3L722.2 1365.5L723.0 1358.9L723.8 1358.2L724.5 1356.9L725.2 1355.4L726.0 1355.9L726.8 1354.6L727.5 1358.7L728.2 1354.5L729.0 1353.3L729.8 1356.2L730.5 1355.1L731.2 1358.0L732.0 1359.4L732.8 1363.1L733.5 1367.3L734.2 1372.1L735.0 1375.8L735.8 1377.1L736.5 1377.7L737.2 1378.3L738.0 1378.2L738.8 1383.9L739.5 1380.9L740.2 1381.6L741.0 1383.1L741.8 1384.6L742.5 1386.4L743.2 1384.6L744.0 1381.1L744.8 1384.8L745.5 1383.4L746.2 1382.6L747.0 1385.9L747.8 1383.6L748.5 1383.9L749.2 1385.7L750.0 1385.1L750.8 1385.3L751.5 1384.8L752.2 1383.2L753.0 1383.4L753.8 1384.3L754.5 1384.6L755.2 1386.5L756.0 1382.0L756.8 1385.1L757.5 1380.1L758.2 1387.4L759.0 1386.6L759.8 1384.0L760.5 1384.4L761.2 1385.1L762.0 1383.7L762.8 1385.8L763.5 1387.2L764.2 1383.5L765.0 1385.8L765.8 1384.1L766.5 1388.8L767.2 1383.0L768.0 1385.2L768.8 1386.7L769.5 1386.6L770.2 1385.1L771.0 1387.3L771.8 1385.7L772.5 1387.9L773.2 1384.1L774.0 1385.6L774.8 1388.9L775.5 1389.7L776.2 1389.8L777.0 1385.0L777.8 1392.5L778.5 1387.2L779.2 1391.6L780.0 1388.2L780.8 1384.6L781.5 1387.9L782.2 1386.4L783.0 1387.6L783.8 1385.7L784.5 1387.3L785.2 1387.2L786.0 1385.2L786.8 1387.7L787.5 1385.4L788.2 1385.4L789.0 1384.3L789.8 1387.7L790.5 1386.2L791.2 1383.3L792.0 1384.7L792.8 1387.2L793.5 1386.7L794.2 1386.9L795.0 1385.4L795.8 1386.9L796.5 1386.9L797.2 1388.5L798.0 1386.8L798.8 1390.2L799.5 1386.6L800.2 1388.3L801.0 1390.5L801.8 1384.8L802.5 1386.8L803.2 1390.3L804.0 1387.3L804.8 1387.0L805.5 1391.4L806.2 1390.9L807.0 1388.8L807.8 1387.2L808.5 1389.7L809.2 1387.2L810.0 1391.7L810.8 1386.2L811.5 1386.3L812.2 1385.5L813.0 1388.3L813.8 1391.1L814.5 1388.6L815.2 1391.0L816.0 1389.7L816.8 1389.6L817.5 1389.7L818.2 1388.9L819.0 1387.8L819.8 1390.3L820.5 1390.2L821.2 1391.1L822.0 1389.4L822.8 1390.4L823.5 1387.9L824.2 1390.1L825.0 1386.5L825.8 1385.8L826.5 1390.3L827.2 1388.1L828.0 1389.0L828.8 1388.5L829.5 1388.8L830.2 1384.1L831.0 1387.5L831.8 1388.4L832.5 1386.8L833.2 1388.3L834.0 1386.9L834.8 1388.1L835.5 1388.8L836.2 1387.2L837.0 1384.4L837.8 1388.9L838.5 1388.5L839.2 1387.4L840.0 1387.6L840.8 1385.7L841.5 1388.5L842.2 1388.3L843.0 1389.0L843.8 1387.4L844.5 1384.2L845.2 1385.0L846.0 1387.2L846.8 1391.2L847.5 1386.9L848.2 1389.0L849.0 1387.5L849.8 1388.5L850.5 1388.2L851.2 1385.8L852.0 1388.0L852.8 1390.6L853.5 1385.3L854.2 1387.4L855.0 1388.4L855.8 1388.0L856.5 1388.8L857.2 1386.0L858.0 1392.2L858.8 1389.7L859.5 1390.0L860.2 1390.6L861.0 1387.3L861.8 1389.8L862.5 1387.4L863.2 1388.3L864.0 1389.9L864.8 1390.8L865.5 1388.8L866.2 1387.9L867.0 1388.4L867.8 1391.9L868.5 1389.2L869.2 1384.7L870.0 1391.1L870.8 1390.6L871.5 1386.9L872.2 1386.3L873.0 1387.9L873.8 1390.4L874.5 1387.9L875.2 1385.6L876.0 1391.2L876.8 1393.2L877.5 1387.7L878.2 1389.7L879.0 1388.8L879.8 1389.0L880.5 1387.8L881.2 1389.3L882.0 1391.2L882.8 1390.0L883.5 1384.9L884.2 1386.6L885.0 1388.2L885.8 1390.3L886.5 1391.0L887.2 1392.8L888.0 1391.9L888.8 1385.7L889.5 1388.5L890.2 1391.4L891.0 1391.2L891.8 1388.2L892.5 1391.2L893.2 1391.3L894.0 1389.5L894.8 1388.6L895.5 1392.3L896.2 1388.3L897.0 1390.0L897.8 1393.2L898.5 1390.1L899.2 1387.1L900.0 1390.5L900.8 1388.5L901.5 1389.7L902.2 1390.0L903.0 1392.0L903.8 1393.3L904.5 1388.9L905.2 1388.8L906.0 1390.4L906.8 1394.5L907.5 1392.7L908.2 1388.3L909.0 1390.7L909.8 1390.1L910.5 1391.2L911.2 1391.3L912.0 1391.4L912.8 1392.2L913.5 1395.8L914.2 1389.0L915.0 1388.5L915.8 1391.9L916.5 1389.6L917.2 1392.2L918.0 1388.2L918.8 1388.2L919.5 1389.0L920.2 1388.3L921.0 1389.3L921.8 1392.2L922.5 1388.2L923.2 1389.0L924.0 1392.2L924.8 1389.8L925.5 1390.7L926.2 1391.8L927.0 1392.0L927.8 1390.5L928.5 1389.6L929.2 1387.1L930.0 1391.1L930.8 1392.3L931.5 1392.2L932.2 1387.4L933.0 1391.2L933.8 1391.9L934.5 1391.0L935.2 1387.8L936.0 1389.1L936.8 1388.2L937.5 1393.2L938.2 1394.6L939.0 1390.8L939.8 1388.4L940.5 1390.2L941.2 1393.4L942.0 1391.9L942.8 1394.0L943.5 1389.1L944.2 1393.2L945.0 1391.0L945.8 1392.4L946.5 1393.9L947.2 1392.5L948.0 1395.9L948.8 1392.0L949.5 1391.9L950.2 1388.6L951.0 1392.2L951.8 1388.6L952.5 1392.8L953.2 1390.2L954.0 1392.4L954.8 1391.0L955.5 1390.1L956.2 1389.1L957.0 1390.1L957.8 1394.4L958.5 1390.8L959.2 1391.7L960.0 1393.8L960.8 1393.6L961.5 1390.2L962.2 1387.6L963.0 1386.3L963.8 1392.4L964.5 1388.1L965.2 1391.5L966.0 1392.3L966.8 1391.0L967.5 1393.9L968.2 1391.8L969.0 1387.9L969.8 1388.5L970.5 1388.2L971.2 1385.1L972.0 1390.8L972.8 1389.3L973.5 1390.5L974.2 1387.9L975.0 1388.0L975.8 1387.2L976.5 1389.5L977.2 1387.0L978.0 1390.2L978.8 1392.0L979.5 1390.4L980.2 1388.2L981.0 1389.5L981.8 1388.5L982.5 1389.3L983.2 1392.1L984.0 1389.1L984.8 1387.1L985.5 1387.1L986.2 1391.8L987.0 1389.6L987.8 1390.4L988.5 1387.9L989.2 1388.9L990.0 1387.3L990.8 1392.1L991.5 1388.8L992.2 1393.3L993.0 1389.8L993.8 1392.3L994.5 1390.1L995.2 1389.1L996.0 1391.9L996.8 1391.0L997.5 1389.6L998.2 1392.2L999.0 1392.2L999.8 1389.3L1000.5 1394.7L1001.2 1391.7L1002.0 1387.3L1002.8 1393.2L1003.5 1391.2L1004.2 1389.2L1005.0 1389.4L1005.8 1392.4L1006.5 1393.0L1007.2 1388.4L1008.0 1390.5L1008.8 1388.7L1009.5 1393.4L1010.2 1388.3L1011.0 1388.5L1011.8 1390.9L1012.5 1393.1L1013.2 1390.9L1014.0 1391.9L1014.8 1390.2L1015.5 1389.8L1016.2 1391.4L1017.0 1390.1L1017.8 1391.1L1018.5 1388.5L1019.2 1391.1L1020.0 1391.3L1020.8 1391.4L1021.5 1390.5L1022.2 1387.5L1023.0 1390.3L1023.8 1389.3L1024.5 1390.7L1025.2 1391.1L1026.0 1390.4L1026.8 1393.2L1027.5 1393.3L1028.2 1390.5L1029.0 1391.1L1029.8 1386.4L1030.5 1392.0L1031.2 1390.2L1032.0 1394.3L1032.8 1396.4L1033.5 1389.7L1034.2 1391.0L1035.0 1389.7L1035.8 1389.7L1036.5 1393.8L1037.2 1391.2L1038.0 1390.6L1038.8 1391.7L1039.5 1393.6L1040.2 1393.4L1041.0 1387.4L1041.8 1392.2L1042.5 1390.6L1043.2 1393.3L1044.0 1391.2L1044.8 1392.2L1045.5 1390.3L1046.2 1393.2L1047.0 1388.2L1047.8 1392.7L1048.5 1389.3L1049.2 1389.7L1050.0 1392.9L1050.8 1388.5L1051.5 1389.8L1052.2 1390.0L1053.0 1390.6L1053.8 1393.4L1054.5 1396.7L1055.2 1391.6L1056.0 1394.6L1056.8 1388.5L1057.5 1391.0L1058.2 1388.8L1059.0 1385.9L1059.8 1390.2L1060.5 1389.4L1061.2 1393.5L1062.0 1395.1L1062.8 1391.5L1063.5 1393.3L1064.2 1390.7L1065.0 1391.1L1065.8 1393.4L1066.5 1387.6L1067.2 1396.0L1068.0 1390.9L1068.8 1387.0L1069.5 1391.1L1070.2 1389.5L1071.0 1389.3L1071.8 1388.9L1072.5 1389.9L1073.2 1389.1L1074.0 1389.5L1074.8 1389.0L1075.5 1386.0L1076.2 1391.2L1077.0 1391.2L1077.8 1389.2L1078.5 1388.1L1079.2 1387.6L1080.0 1392.3L1080.8 1389.2L1081.5 1392.6L1082.2 1391.6L1083.0 1391.0L1083.8 1389.5L1084.5 1388.7L1085.2 1386.4L1086.0 1390.6L1086.8 1388.5L1087.5 1390.2L1088.2 1390.6L1089.0 1386.8L1089.8 1393.9L1090.5 1390.1L1091.2 1391.2L1092.0 1387.2L1092.8 1391.0L1093.5 1390.0L1094.2 1389.1L1095.0 1390.2L1095.8 1391.7L1096.5 1393.2L1097.2 1387.2L1098.0 1391.3L1098.8 1396.0L1099.5 1393.5L1100.2 1391.2L1101.0 1387.5L1101.8 1391.7L1102.5 1390.1L1103.2 1388.6L1104.0 1394.8L1104.8 1390.9L1105.5 1390.4L1106.2 1392.5L1107.0 1388.0L1107.8 1388.6L1108.5 1389.9L1109.2 1391.7L1110.0 1391.1L1110.8 1386.3L1111.5 1389.7L1112.2 1390.6L1113.0 1386.1L1113.8 1389.1L1114.5 1390.4L1115.2 1390.6L1116.0 1386.6L1116.8 1387.2L1117.5 1390.1L1118.2 1388.5L1119.0 1389.2L1119.8 1391.8L1120.5 1393.8L1121.2 1394.5L1122.0 1388.5L1122.8 1388.0L1123.5 1388.8L1124.2 1392.6L1125.0 1386.3L1125.8 1384.4L1126.5 1388.1L1127.2 1388.7L1128.0 1387.6L1128.8 1388.6L1129.5 1391.7L1130.2 1390.5L1131.0 1387.8L1131.8 1384.6L1132.5 1389.7L1133.2 1388.0L1134.0 1391.2L1134.8 1390.1L1135.5 1388.0L1136.2 1384.6L1137.0 1388.8L1137.8 1389.5L1138.5 1385.9L1139.2 1391.4L1140.0 1387.2L1140.8 1384.8L1141.5 1383.4L1142.2 1391.5L1143.0 1385.7L1143.8 1389.6L1144.5 1384.6L1145.2 1390.9L1146.0 1391.7L1146.8 1385.3L1147.5 1385.0L1148.2 1389.3L1149.0 1387.0L1149.8 1387.6L1150.5 1384.8L1151.2 1387.6L1152.0 1385.4L1152.8 1389.8L1153.5 1384.8L1154.2 1385.9L1155.0 1390.4L1155.8 1387.2L1156.5 1385.8L1157.2 1387.3L1158.0 1387.1L1158.8 1387.1L1159.5 1389.4L1160.2 1388.8L1161.0 1387.3L1161.8 1386.1L1162.5 1391.9L1163.2 1389.0L1164.0 1388.0L1164.8 1387.5L1165.5 1388.2L1166.2 1388.1L1167.0 1388.5L1167.8 1388.2L1168.5 1387.8L1169.2 1388.5L1170.0 1387.0L1170.8 1387.1L1171.5 1388.5L1172.2 1387.6L1173.0 1385.9L1173.8 1389.4L1174.5 1388.7L1175.2 1386.1L1176.0 1387.9L1176.8 1388.3L1177.5 1386.9L1178.2 1388.9L1179.0 1382.4L1179.8 1386.7L1180.5 1384.7L1181.2 1384.3L1182.0 1389.1L1182.8 1393.0L1183.5 1384.9L1184.2 1387.3L1185.0 1389.5L1185.8 1383.5L1186.5 1388.3L1187.2 1389.7L1188.0 1382.8L1188.8 1389.4L1189.5 1389.6L1190.2 1388.1L1191.0 1390.8L1191.8 1386.9L1192.5 1388.0L1193.2 1389.0L1194.0 1388.4L1194.8 1389.4L1195.5 1386.4L1196.2 1386.3L1197.0 1385.5L1197.8 1388.4L1198.5 1389.8L1199.2 1392.0L1200.0 1391.3L1200.8 1384.5L1201.5 1388.3L1202.2 1391.7L1203.0 1385.1L1203.8 1389.4L1204.5 1385.0L1205.2 1387.8L1206.0 1388.9L1206.8 1390.4L1207.5 1387.8L1208.2 1386.2L1209.0 1383.3L1209.8 1384.1L1210.5 1389.5L1211.2 1387.5L1212.0 1387.0L1212.8 1388.4L1213.5 1388.9L1214.2 1392.0L1215.0 1387.3L1215.8 1389.2L1216.5 1387.9L1217.2 1387.3L1218.0 1384.7L1218.8 1387.7L1219.5 1384.8L1220.2 1384.5L1221.0 1389.4L1221.8 1384.8L1222.5 1383.7L1223.2 1385.3L1224.0 1386.4L1224.8 1384.6L1225.5 1388.6L1226.2 1388.1L1227.0 1388.3L1227.8 1389.0L1228.5 1385.7L1229.2 1388.9L1230.0 1386.4L1230.8 1385.6L1231.5 1384.5L1232.2 1386.7L1233.0 1385.1L1233.8 1388.7L1234.5 1388.4L1235.2 1384.8L1236.0 1384.6L1236.8 1388.1L1237.5 1385.9L1238.2 1387.7L1239.0 1387.7L1239.8 1387.9L1240.5 1387.2L1241.2 1386.9L1242.0 1386.7L1242.8 1386.1L1243.5 1386.3L1244.2 1385.5L1245.0 1386.7L1245.8 1389.4L1246.5 1388.3L1247.2 1384.5L1248.0 1386.1L1248.8 1386.6L1249.5 1382.7L1250.2 1384.2L1251.0 1388.1L1251.8 1386.4L1252.5 1389.9L1253.2 1385.2L1254.0 1388.6L1254.8 1386.0L1255.5 1384.0L1256.2 1386.6L1257.0 1388.3L1257.8 1386.8L1258.5 1386.2L1259.2 1387.6L1260.0 1384.2L1260.8 1385.6L1261.5 1385.2L1262.2 1387.8L1263.0 1383.8L1263.8 1386.9L1264.5 1384.8L1265.2 1381.3L1266.0 1386.4L1266.8 1384.1L1267.5 1386.3L1268.2 1387.5L1269.0 1389.2L1269.8 1384.6L1270.5 1386.5L1271.2 1390.5L1272.0 1388.3L1272.8 1386.0L1273.5 1388.7L1274.2 1389.7L1275.0 1388.4L1275.8 1385.2L1276.5 1388.2L1277.2 1386.8L1278.0 1386.5L1278.8 1387.9L1279.5 1387.6L1280.2 1386.9L1281.0 1387.9L1281.8 1388.6L1282.5 1384.1L1283.2 1384.7L1284.0 1389.4L1284.8 1389.5L1285.5 1387.6L1286.2 1383.8L1287.0 1388.7L1287.8 1386.9L1288.5 1388.2L1289.2 1387.0L1290.0 1385.8L1290.8 1389.7L1291.5 1386.6L1292.2 1388.1L1293.0 1383.4L1293.8 1386.8L1294.5 1390.2L1295.2 1387.0L1296.0 1388.0L1296.8 1388.6L1297.5 1389.4L1298.2 1386.2L1299.0 1384.2L1299.8 1387.7L1300.5 1383.6L1301.2 1383.9L1302.0 1388.7L1302.8 1383.7L1303.5 1384.2L1304.2 1386.0L1305.0 1382.3L1305.8 1383.6L1306.5 1385.9L1307.2 1382.9L1308.0 1382.3L1308.8 1383.0L1309.5 1386.8L1310.2 1384.7L1311.0 1385.8L1311.8 1385.7L1312.5 1385.4L1313.2 1384.6L1314.0 1385.2L1314.8 1383.3L1315.5 1386.9L1316.2 1386.5L1317.0 1382.4L1317.8 1382.7L1318.5 1385.4L1319.2 1386.2L1320.0 1384.0L1320.8 1385.4L1321.5 1387.2L1322.2 1388.6L1323.0 1384.5L1323.8 1386.2L1324.5 1384.3L1325.2 1385.9L1326.0 1385.2L1326.8 1388.9L1327.5 1385.1L1328.2 1385.4L1329.0 1384.7L1329.8 1387.1L1330.5 1389.4L1331.2 1386.2L1332.0 1385.4L1332.8 1388.8L1333.5 1386.3L1334.2 1391.0L1335.0 1385.8L1335.8 1387.2L1336.5 1386.8L1337.2 1385.8L1338.0 1386.6L1338.8 1386.4L1339.5 1386.5L1340.2 1387.5L1341.0 1387.5L1341.8 1385.9L1342.5 1387.4L1343.2 1388.3L1344.0 1391.1L1344.8 1388.9L1345.5 1382.0L1346.2 1389.2L1347.0 1387.1L1347.8 1386.6L1348.5 1384.6L1349.2 1382.2L1350.0 1388.7L1350.8 1387.7L1351.5 1388.8L1352.2 1385.6L1353.0 1386.9L1353.8 1385.8L1354.5 1385.5L1355.2 1393.2L1356.0 1385.3L1356.8 1387.5L1357.5 1387.0L1358.2 1383.9L1359.0 1385.1L1359.8 1387.4L1360.5 1384.8L1361.2 1386.6L1362.0 1387.0L1362.8 1386.5L1363.5 1386.2L1364.2 1385.9L1365.0 1384.9L1365.8 1382.9L1366.5 1386.5L1367.2 1387.5L1368.0 1385.3L1368.8 1385.2L1369.5 1385.8L1370.2 1384.7L1371.0 1381.1L1371.8 1382.9L1372.5 1382.0L1373.2 1385.6L1374.0 1387.7L1374.8 1384.2L1375.5 1387.6L1376.2 1383.8L1377.0 1383.6L1377.8 1382.5L1378.5 1380.4L1379.2 1382.5L1380.0 1382.9L1380.8 1380.9L1381.5 1385.5L1382.2 1378.6L1383.0 1380.2L1383.8 1378.0L1384.5 1378.3L1385.2 1376.9L1386.0 1375.8L1386.8 1376.6L1387.5 1377.0L1388.2 1376.4L1389.0 1376.3L1389.8 1376.8L1390.5 1371.8L1391.2 1377.7L1392.0 1374.7L1392.8 1369.9L1393.5 1372.3L1394.2 1371.6L1395.0 1375.5L1395.8 1374.8L1396.5 1372.0L1397.2 1370.1L1398.0 1370.5L1398.8 1368.2L1399.5 1370.4L1400.2 1373.8L1401.0 1374.0L1401.8 1370.6L1402.5 1372.7L1403.2 1371.7L1404.0 1371.4L1404.8 1368.7L1405.5 1371.7L1406.2 1368.9L1407.0 1370.5L1407.8 1375.1L1408.5 1371.2L1409.2 1372.9L1410.0 1373.2L1410.8 1368.8L1411.5 1369.3L1412.2 1368.5L1413.0 1370.2L1413.8 1367.7L1414.5 1365.9L1415.2 1366.5L1416.0 1362.8L1416.8 1362.8L1417.5 1366.3L1418.2 1358.3L1419.0 1358.4L1419.8 1358.9L1420.5 1358.2L1421.2 1356.1L1422.0 1355.8L1422.8 1352.4L1423.5 1350.8L1424.2 1348.9L1425.0 1345.3L1425.8 1344.4L1426.5 1341.0L1427.2 1340.9L1428.0 1335.2L1428.8 1334.4L1429.5 1337.1L1430.2 1332.1L1431.0 1328.2L1431.8 1327.6L1432.5 1324.7L1433.2 1316.7L1434.0 1316.5L1434.8 1307.5L1435.5 1303.9L1436.2 1301.7L1437.0 1289.6L1437.8 1278.8L1438.5 1271.2L1439.2 1259.4L1440.0 1246.1L1440.8 1240.0L1441.5 1228.6L1442.2 1217.6L1443.0 1200.3L1443.8 1194.3L1444.5 1186.3L1445.2 1182.9L1446.0 1175.8L1446.8 1173.3L1447.5 1171.5L1448.2 1169.9L1449.0 1166.8L1449.8 1169.2L1450.5 1164.2L1451.2 1164.9L1452.0 1166.0L1452.8 1164.3L1453.5 1163.8L1454.2 1161.2L1455.0 1166.9L1455.8 1162.2L1456.5 1166.8L1457.2 1165.6L1458.0 1165.8L1458.8 1170.4L1459.5 1172.7L1460.2 1175.6L1461.0 1180.0L1461.8 1181.5L1462.5 1186.0L1463.2 1192.2L1464.0 1197.0L1464.8 1196.8L1465.5 1202.9L1466.2 1206.6L1467.0 1208.5L1467.8 1214.5L1468.5 1219.0L1469.2 1223.6L1470.0 1229.3L1470.8 1227.5L1471.5 1233.8L1472.2 1232.7L1473.0 1243.8L1473.8 1245.0L1474.5 1247.9L1475.2 1254.0L1476.0 1259.0L1476.8 1261.5L1477.5 1267.8L1478.2 1266.9L1479.0 1269.9L1479.8 1272.9L1480.5 1279.9L1481.2 1283.3L1482.0 1287.5L1482.8 1292.9L1483.5 1293.9L1484.2 1294.4L1485.0 1297.5L1485.8 1300.3L1486.5 1298.3L1487.2 1303.4L1488.0 1304.5L1488.8 1306.0L1489.5 1308.6L1490.2 1308.0L1491.0 1311.3L1491.8 1313.5L1492.5 1312.7L1493.2 1311.1L1494.0 1313.2L1494.8 1315.7L1495.5 1320.9L1496.2 1320.7L1497.0 1318.9L1497.8 1321.0L1498.5 1318.8L1499.2 1322.3L1500.0 1320.6L1500.8 1319.1L1501.5 1321.5L1502.2 1319.4L1503.0 1322.3L1503.8 1322.6L1504.5 1322.9L1505.2 1318.8L1506.0 1317.0L1506.8 1316.2L1507.5 1312.1L1508.2 1313.5L1509.0 1304.7L1509.8 1298.2L1510.5 1297.8L1511.2 1293.4L1512.0 1291.3L1512.8 1287.3L1513.5 1281.8L1514.2 1276.0L1515.0 1273.0L1515.8 1265.2L1516.5 1262.1L1517.2 1253.5L1518.0 1245.0L1518.8 1242.7L1519.5 1231.2L1520.2 1225.3L1521.0 1222.5L1521.8 1209.2L1522.5 1199.2L1523.2 1189.0L1524.0 1177.4L1524.8 1162.1L1525.5 1144.1L1526.2 1125.9L1527.0 1107.1L1527.8 1083.5L1528.5 1059.6L1529.2 1036.4L1530.0 1000.7L1530.8 969.4L1531.5 939.8L1532.2 910.8L1533.0 884.4L1533.8 861.9L1534.5 837.0L1535.2 810.1L1536.0 829.4L1536.8 849.3L1537.5 873.5L1538.2 893.5L1539.0 916.1L1539.8 940.8L1540.5 969.0L1541.2 998.3L1542.0 1021.3L1542.8 1046.1L1543.5 1061.1L1544.2 1078.6L1545.0 1095.2L1545.8 1108.9L1546.5 1125.6L1547.2 1145.2L1548.0 1158.4L1548.8 1168.1L1549.5 1180.8L1550.2 1193.6L1551.0 1198.8L1551.8 1210.1L1552.5 1215.9L1553.2 1214.9L1554.0 1211.7L1554.8 1203.3L1555.5 1193.7L1556.2 1182.5L1557.0 1169.5L1557.8 1161.9L1558.5 1159.1L1559.2 1156.4L1560.0 1151.8L1560.8 1151.1L1561.5 1152.4L1562.2 1152.6L1563.0 1146.2L1563.8 1154.8L1564.5 1158.7L1565.2 1162.1L1566.0 1165.6L1566.8 1174.9L1567.5 1174.9L1568.2 1184.3L1569.0 1190.5L1569.8 1199.9L1570.5 1204.2L1571.2 1218.0L1572.0 1228.4L1572.8 1241.0L1573.5 1249.2L1574.2 1259.3L1575.0 1268.0L1575.8 1278.7L1576.5 1290.1L1577.2 1295.8L1578.0 1301.5L1578.8 1307.1L1579.5 1314.8L1580.2 1320.6L1581.0 1322.1L1581.8 1327.5L1582.5 1328.1L1583.2 1335.1L1584.0 1337.2L1584.8 1335.7L1585.5 1340.2L1586.2 1343.3L1587.0 1341.8L1587.8 1349.4L1588.5 1348.2L1589.2 1345.9L1590.0 1346.0L1590.8 1351.5L1591.5 1351.8L1592.2 1353.9L1593.0 1353.9L1593.8 1351.9L1594.5 1358.4L1595.2 1359.4L1596.0 1363.3L1596.8 1360.5L1597.5 1362.7L1598.2 1363.9L1599.0 1362.4L1599.8 1362.3L1600.5 1362.5L1601.2 1365.5L1602.0 1364.3L1602.8 1367.2L1603.5 1368.1L1604.2 1367.6L1605.0 1369.2L1605.8 1366.8L1606.5 1370.5L1607.2 1369.1L1608.0 1371.1L1608.8 1369.7L1609.5 1373.8L1610.2 1372.4L1611.0 1375.4L1611.8 1371.3L1612.5 1371.8L1613.2 1373.9L1614.0 1373.3L1614.8 1377.0L1615.5 1375.3L1616.2 1375.6L1617.0 1378.3L1617.8 1379.6L1618.5 1382.2L1619.2 1377.9L1620.0 1378.1L1620.8 1373.6L1621.5 1380.8L1622.2 1379.3L1623.0 1382.8L1623.8 1383.0L1624.5 1383.1L1625.2 1380.1L1626.0 1381.5L1626.8 1381.9L1627.5 1384.0L1628.2 1382.6L1629.0 1382.8L1629.8 1384.2L1630.5 1383.4L1631.2 1383.2L1632.0 1386.5L1632.8 1383.4L1633.5 1384.2L1634.2 1384.3L1635.0 1388.4L1635.8 1381.7L1636.5 1385.9L1637.2 1385.8L1638.0 1384.5L1638.8 1385.3L1639.5 1385.3L1640.2 1387.2L1641.0 1383.0L1641.8 1385.2L1642.5 1381.4L1643.2 1383.1L1644.0 1388.0L1644.8 1389.0L1645.5 1383.9L1646.2 1382.3L1647.0 1383.7L1647.8 1386.0L1648.5 1390.3L1649.2 1384.9L1650.0 1386.2L1650.8 1387.5L1651.5 1387.3L1652.2 1386.0L1653.0 1386.7L1653.8 1390.1L1654.5 1387.0L1655.2 1386.9L1656.0 1385.8L1656.8 1386.6L1657.5 1385.9L1658.2 1387.0L1659.0 1388.0L1659.8 1389.8L1660.5 1386.0L1661.2 1390.2L1662.0 1388.6L1662.8 1385.5L1663.5 1386.7L1664.2 1383.4L1665.0 1391.1L1665.8 1383.9L1666.5 1387.2L1667.2 1388.6L1668.0 1389.0L1668.8 1388.7L1669.5 1387.9L1670.2 1383.8L1671.0 1388.0L1671.8 1389.7L1672.5 1389.0L1673.2 1389.2L1674.0 1385.1L1674.8 1382.9L1675.5 1384.4L1676.2 1384.3L1677.0 1383.4L1677.8 1386.1L1678.5 1387.9L1679.2 1388.2L1680.0 1388.0L1680.8 1389.9L1681.5 1383.0L1682.2 1389.0L1683.0 1389.0L1683.8 1383.3L1684.5 1388.1L1685.2 1387.0L1686.0 1384.4L1686.8 1388.7L1687.5 1387.8L1688.2 1389.4L1689.0 1386.1L1689.8 1389.1L1690.5 1382.9L1691.2 1389.7L1692.0 1386.1L1692.8 1391.1L1693.5 1389.2L1694.2 1385.4L1695.0 1389.9L1695.8 1387.2L1696.5 1385.2L1697.2 1385.9L1698.0 1388.1L1698.8 1384.6L1699.5 1385.2L1700.2 1386.1L1701.0 1386.2L1701.8 1387.4L1702.5 1386.8L1703.2 1390.8L1704.0 1387.9L1704.8 1385.0L1705.5 1387.5L1706.2 1391.2L1707.0 1390.0L1707.8 1387.7L1708.5 1388.3L1709.2 1384.1L1710.0 1386.7L1710.8 1385.9L1711.5 1386.4L1712.2 1390.5L1713.0 1390.1L1713.8 1385.6L1714.5 1386.8L1715.2 1388.6L1716.0 1388.2L1716.8 1386.3L1717.5 1389.9L1718.2 1389.9L1719.0 1388.2L1719.8 1386.1L1720.5 1387.9L1721.2 1389.0L1722.0 1384.6L1722.8 1389.6L1723.5 1389.2L1724.2 1387.4L1725.0 1390.8L1725.8 1386.9L1726.5 1387.3L1727.2 1387.4L1728.0 1386.9L1728.8 1390.6L1729.5 1390.7L1730.2 1392.5L1731.0 1391.3L1731.8 1387.9L1732.5 1391.0L1733.2 1392.1L1734.0 1388.0L1734.8 1388.4L1735.5 1387.7L1736.2 1389.8L1737.0 1391.4L1737.8 1391.7L1738.5 1388.0L1739.2 1390.1L1740.0 1389.4L1740.8 1387.7L1741.5 1386.6L1742.2 1389.5L1743.0 1386.1L1743.8 1387.2L1744.5 1390.3L1745.2 1391.0L1746.0 1389.6L1746.8 1391.3L1747.5 1390.0L1748.2 1391.6L1749.0 1388.6L1749.8 1386.3L1750.5 1394.1L1751.2 1391.9L1752.0 1395.6L1752.8 1390.8L1753.5 1392.2L1754.2 1390.9L1755.0 1391.5L1755.8 1387.3L1756.5 1391.1L1757.2 1393.9L1758.0 1388.9L1758.8 1392.2L1759.5 1388.6L1760.2 1391.9L1761.0 1389.7L1761.8 1387.5L1762.5 1394.0L1763.2 1389.1L1764.0 1390.6L1764.8 1388.6L1765.5 1395.0L1766.2 1391.2L1767.0 1390.7L1767.8 1390.8L1768.5 1391.7L1769.2 1392.4L1770.0 1390.7L1770.8 1391.0L1771.5 1386.9L1772.2 1392.0L1773.0 1388.4L1773.8 1389.3L1774.5 1389.1L1775.2 1391.2L1776.0 1391.1L1776.8 1386.8L1777.5 1394.6L1778.2 1387.3L1779.0 1390.3L1779.8 1389.7L1780.5 1386.0L1781.2 1392.0L1782.0 1389.4L1782.8 1387.4L1783.5 1390.3L1784.2 1382.9L1785.0 1388.7L1785.8 1389.6L1786.5 1389.8L1787.2 1391.4L1788.0 1390.5L1788.8 1385.4L1789.5 1389.8L1790.2 1387.3L1791.0 1387.6L1791.8 1391.2L1792.5 1391.1L1793.2 1392.5L1794.0 1389.7L1794.8 1392.8L1795.5 1388.5L1796.2 1390.2L1797.0 1389.7L1797.8 1388.8L1798.5 1386.2L1799.2 1387.5L1800.0 1392.4L1800.8 1390.1L1801.5 1392.6L1802.2 1388.6L1803.0 1389.1L1803.8 1390.2L1804.5 1390.6L1805.2 1390.6L1806.0 1392.5L1806.8 1388.1L1807.5 1393.0L1808.2 1390.8L1809.0 1392.1L1809.8 1388.9L1810.5 1391.6L1811.2 1392.8L1812.0 1389.2L1812.8 1394.8L1813.5 1390.2L1814.2 1392.5L1815.0 1390.6L1815.8 1392.8L1816.5 1394.5L1817.2 1388.3L1818.0 1390.1L1818.8 1393.2L1819.5 1391.5L1820.2 1391.6L1821.0 1393.4L1821.8 1393.8L1822.5 1392.4L1823.2 1390.4L1824.0 1393.8L1824.8 1395.7L1825.5 1390.7L1826.2 1390.9L1827.0 1393.4L1827.8 1390.2L1828.5 1390.3L1829.2 1388.7L1830.0 1389.7L1830.8 1391.8L1831.5 1391.4L1832.2 1390.7L1833.0 1391.4L1833.8 1390.9L1834.5 1389.5L1835.2 1392.6L1836.0 1389.5L1836.8 1391.5L1837.5 1388.2L1838.2 1388.9L1839.0 1389.7L1839.8 1389.5L1840.5 1393.2L1841.2 1393.7L1842.0 1387.5L1842.8 1391.0L1843.5 1393.7L1844.2 1388.9L1845.0 1389.1L1845.8 1387.7L1846.5 1395.4L1847.2 1390.1L1848.0 1390.8L1848.8 1388.7L1849.5 1390.1L1850.2 1389.2L1851.0 1390.6L1851.8 1388.7L1852.5 1389.6L1853.2 1391.2L1854.0 1390.9L1854.8 1390.2L1855.5 1392.2L1856.2 1389.2L1857.0 1390.8L1857.8 1393.6L1858.5 1390.1L1859.2 1392.0L1860.0 1392.4L1860.8 1391.4L1861.5 1391.9L1862.2 1390.8L1863.0 1389.5L1863.8 1390.6L1864.5 1390.4L1865.2 1396.6L1866.0 1391.3L1866.8 1387.9L1867.5 1387.9L1868.2 1387.7L1869.0 1387.3L1869.8 1389.7L1870.5 1390.5L1871.2 1388.1L1872.0 1387.4L1872.8 1389.8L1873.5 1394.8L1874.2 1389.8L1875.0 1394.9L1875.8 1390.2L1876.5 1390.3L1877.2 1389.6L1878.0 1388.9L1878.8 1390.7L1879.5 1387.9L1880.2 1387.2L1881.0 1390.7L1881.8 1386.4L1882.5 1386.5L1883.2 1393.7L1884.0 1388.5L1884.8 1385.3L1885.5 1389.6L1886.2 1387.1L1887.0 1389.6L1887.8 1389.6L1888.5 1387.4L1889.2 1387.0L1890.0 1391.8L1890.8 1393.8L1891.5 1389.3L1892.2 1387.2L1893.0 1386.9L1893.8 1392.5L1894.5 1390.6L1895.2 1392.0L1896.0 1393.8L1896.8 1391.0L1897.5 1391.1L1898.2 1389.9L1899.0 1390.3L1899.8 1389.2L1900.5 1391.2L1901.2 1393.2L1902.0 1387.6L1902.8 1391.6L1903.5 1388.9L1904.2 1387.8L1905.0 1390.2L1905.8 1387.9L1906.5 1389.5L1907.2 1391.1L1908.0 1388.1L1908.8 1390.5L1909.5 1386.1L1910.2 1391.0L1911.0 1388.1L1911.8 1393.8L1912.5 1391.2L1913.2 1387.9L1914.0 1389.9L1914.8 1389.1L1915.5 1387.6L1916.2 1391.0L1917.0 1388.1L1917.8 1386.9L1918.5 1387.5L1919.2 1390.9L1920.0 1385.0L1920.8 1385.3L1921.5 1388.5L1922.2 1387.8L1923.0 1389.0L1923.8 1385.6L1924.5 1388.8L1925.2 1387.0L1926.0 1385.9L1926.8 1388.9L1927.5 1385.4L1928.2 1389.1L1929.0 1386.8L1929.8 1388.1L1930.5 1384.1L1931.2 1388.4L1932.0 1387.0L1932.8 1385.5L1933.5 1388.9L1934.2 1384.3L1935.0 1384.3L1935.8 1386.3L1936.5 1386.1L1937.2 1385.2L1938.0 1387.5L1938.8 1388.2L1939.5 1385.9L1940.2 1382.5L1941.0 1388.9L1941.8 1386.8L1942.5 1385.3L1943.2 1387.7L1944.0 1383.6L1944.8 1386.7L1945.5 1388.1L1946.2 1386.0L1947.0 1387.3L1947.8 1384.2L1948.5 1385.8L1949.2 1387.7L1950.0 1385.9L1950.8 1385.1L1951.5 1386.0L1952.2 1387.0L1953.0 1390.3L1953.8 1386.8L1954.5 1382.9L1955.2 1387.4L1956.0 1383.7L1956.8 1380.9L1957.5 1387.2L1958.2 1389.4L1959.0 1384.1L1959.8 1385.4L1960.5 1384.5L1961.2 1388.0L1962.0 1384.9L1962.8 1383.1L1963.5 1385.0L1964.2 1387.0L1965.0 1384.6L1965.8 1383.8L1966.5 1384.0L1967.2 1387.4L1968.0 1384.3L1968.8 1386.4L1969.5 1385.5L1970.2 1386.5L1971.0 1386.0L1971.8 1383.5L1972.5 1385.8L1973.2 1382.2L1974.0 1384.8L1974.8 1386.2L1975.5 1385.1L1976.2 1380.6L1977.0 1383.5L1977.8 1383.6L1978.5 1385.6L1979.2 1382.6L1980.0 1385.4L1980.8 1382.6L1981.5 1384.9L1982.2 1380.5L1983.0 1383.7L1983.8 1376.8L1984.5 1385.5L1985.2 1378.1L1986.0 1380.1L1986.8 1380.9L1987.5 1378.5L1988.2 1376.5L1989.0 1383.1L1989.8 1379.5L1990.5 1377.8L1991.2 1378.8L1992.0 1378.0L1992.8 1376.6L1993.5 1376.6L1994.2 1377.1L1995.0 1377.1L1995.8 1375.7L1996.5 1377.6L1997.2 1377.6L1998.0 1376.2L1998.8 1375.5L1999.5 1376.6L2000.2 1371.2L2001.0 1373.4L2001.8 1371.9L2002.5 1372.1L2003.2 1369.4L2004.0 1372.4L2004.8 1371.4L2005.5 1371.9L2006.2 1377.9L2007.0 1371.8L2007.8 1371.0L2008.5 1370.8L2009.2 1370.1L2010.0 1371.7L2010.8 1370.4L2011.5 1369.8L2012.2 1368.8L2013.0 1371.5L2013.8 1366.2L2014.5 1369.3L2015.2 1372.2L2016.0 1369.0L2016.8 1364.2L2017.5 1368.2L2018.2 1370.5L2019.0 1367.3L2019.8 1363.2L2020.5 1365.7L2021.2 1357.6L2022.0 1359.6L2022.8 1357.3L2023.5 1359.8L2024.2 1356.6L2025.0 1350.4L2025.8 1355.4L2026.5 1354.5L2027.2 1353.5L2028.0 1347.2L2028.8 1351.6L2029.5 1348.2L2030.2 1343.5L2031.0 1345.3L2031.8 1344.5L2032.5 1343.9L2033.2 1341.3L2034.0 1342.2L2034.8 1339.6L2035.5 1339.6L2036.2 1340.9L2037.0 1339.5L2037.8 1332.9L2038.5 1331.0L2039.2 1333.9L2040.0 1331.2L2040.8 1330.3L2041.5 1330.3L2042.2 1329.6L2043.0 1332.1L2043.8 1327.5L2044.5 1332.0L2045.2 1329.1L2046.0 1328.9L2046.8 1332.2L2047.5 1337.9L2048.2 1337.7L2049.0 1344.1L2049.8 1350.8L2050.5 1355.4L2051.2 1358.4L2052.0 1361.7L2052.8 1361.7L2053.5 1364.8L2054.2 1370.1L2055.0 1371.9L2055.8 1372.2L2056.5 1372.5L2057.2 1370.8L2058.0 1372.8L2058.8 1377.5L2059.5 1375.5L2060.2 1379.1L2061.0 1376.4L2061.8 1379.8L2062.5 1378.3L2063.2 1378.4L2064.0 1378.6L2064.8 1382.3L2065.5 1376.5L2066.2 1379.9L2067.0 1381.6L2067.8 1380.7L2068.5 1378.1L2069.2 1385.4L2070.0 1381.9L2070.8 1383.1L2071.5 1382.3L2072.2 1385.6L2073.0 1383.4L2073.8 1384.3L2074.5 1383.6L2075.2 1388.7L2076.0 1386.1L2076.8 1389.7L2077.5 1388.8L2078.2 1388.5L2079.0 1386.4L2079.8 1390.9L2080.5 1387.6L2081.2 1389.3L2082.0 1386.0L2082.8 1386.3L2083.5 1387.8L2084.2 1386.6L2085.0 1390.0L2085.8 1390.3L2086.5 1389.7L2087.2 1388.5L2088.0 1388.7L2088.8 1389.4L2089.5 1385.9L2090.2 1393.3L2091.0 1391.5L2091.8 1389.3L2092.5 1391.2L2093.2 1391.1L2094.0 1388.6L2094.8 1389.1L2095.5 1394.1L2096.2 1391.3L2097.0 1390.7L2097.8 1389.9L2098.5 1386.3L2099.2 1392.8L2100.0 1390.2L2100.8 1389.8L2101.5 1391.8L2102.2 1394.1L2103.0 1393.6L2103.8 1390.4L2104.5 1387.0L2105.2 1386.8L2106.0 1388.8L2106.8 1384.1L2107.5 1388.7L2108.2 1390.3L2109.0 1392.3L2109.8 1389.7L2110.5 1386.4L2111.2 1391.3L2112.0 1385.5L2112.8 1389.2L2113.5 1389.5L2114.2 1386.6L2115.0 1385.2L2115.8 1391.3L2116.5 1388.9L2117.2 1389.2L2118.0 1387.7L2118.8 1390.2L2119.5 1390.2L2120.2 1389.3L2121.0 1386.4L2121.8 1384.6L2122.5 1387.3L2123.2 1390.2L2124.0 1388.1L2124.8 1388.7L2125.5 1385.3L2126.2 1389.9L2127.0 1389.4L2127.8 1390.6L2128.5 1390.6L2129.2 1387.9L2130.0 1387.7L2130.8 1385.4L2131.5 1391.9L2132.2 1388.6L2133.0 1390.1L2133.8 1389.7L2134.5 1390.2L2135.2 1387.1L2136.0 1385.5L2136.8 1388.2L2137.5 1385.8L2138.2 1388.3L2139.0 1387.5L2139.8 1386.4L2140.5 1386.3L2141.2 1382.9L2142.0 1388.8L2142.8 1388.2L2143.5 1388.6L2144.2 1386.1L2145.0 1389.2L2145.8 1386.6L2146.5 1389.2L2147.2 1389.1L2148.0 1388.3L2148.8 1386.1L2149.5 1386.1L2150.2 1389.0L2151.0 1389.2L2151.8 1388.3L2152.5 1385.3L2153.2 1387.4L2154.0 1387.5L2154.8 1388.1L2155.5 1389.1L2156.2 1390.6L2157.0 1389.3L2157.8 1389.1L2158.5 1386.0L2159.2 1387.6L2160.0 1386.7L2160.8 1389.1L2161.5 1386.9L2162.2 1390.1L2163.0 1388.0L2163.8 1387.0L2164.5 1388.4L2165.2 1387.9L2166.0 1389.7L2166.8 1385.8L2167.5 1384.4L2168.2 1385.1L2169.0 1389.3L2169.8 1388.1L2170.5 1385.7L2171.2 1388.6L2172.0 1386.9L2172.8 1389.3L2173.5 1383.7L2174.2 1387.5L2175.0 1383.1L2175.8 1390.3L2176.5 1383.6L2177.2 1387.2L2178.0 1386.8L2178.8 1385.7L2179.5 1386.2L2180.2 1387.0L2181.0 1389.3L2181.8 1386.5L2182.5 1390.3L2183.2 1387.5L2184.0 1384.8L2184.8 1385.7L2185.5 1386.3L2186.2 1387.1L2187.0 1384.5L2187.8 1385.2L2188.5 1385.9L2189.2 1388.6L2190.0 1390.0L2190.8 1385.4L2191.5 1388.4L2192.2 1386.1L2193.0 1388.2L2193.8 1385.4L2194.5 1388.5L2195.2 1384.3L2196.0 1387.2L2196.8 1388.1L2197.5 1387.8L2198.2 1389.8L2199.0 1384.8L2199.8 1389.8L2200.5 1384.5L2201.2 1389.1L2202.0 1386.3L2202.8 1387.0L2203.5 1390.9L2204.2 1389.4L2205.0 1388.8L2205.8 1388.9L2206.5 1385.7L2207.2 1388.1L2208.0 1387.4L2208.8 1390.5L2209.5 1388.5L2210.2 1386.7L2211.0 1386.8L2211.8 1387.5L2212.5 1384.8L2213.2 1386.1L2214.0 1386.6L2214.8 1385.3L2215.5 1386.7L2216.2 1389.1L2217.0 1386.7L2217.8 1386.3L2218.5 1384.8L2219.2 1387.0L2220.0 1387.1L2220.8 1386.6L2221.5 1389.6L2222.2 1388.2L2223.0 1389.6L2223.8 1388.4L2224.5 1384.2" fill="none" stroke="#ff7f00" stroke-width="12.8" stroke-linejoin="round" stroke-linecap="round"/></g>
<g fill="#000" shape-rendering="crispEdges">
<rect x="243" y="54" width="1977" height="7"/>
<rect x="243" y="54" width="7" height="694"/>
<rect x="2213" y="54" width="7" height="694"/>
<rect x="243" y="741" width="1977" height="7"/>
<rect x="242" y="742" width="1977" height="7"/>
<rect x="244" y="742" width="7" height="694"/>
<rect x="2213" y="742" width="6" height="694"/>
<rect x="242" y="1429" width="1977" height="7"/>
</g>
<line x1="1937.6" y1="99.9" x2="2112.0" y2="99.9" stroke="#0000ff" stroke-width="12.2" stroke-linecap="round"/>
<line x1="1935.5" y1="790.9" x2="2108.1" y2="790.9" stroke="#ff7f00" stroke-width="12.2" stroke-linecap="round"/>
<text transform="translate(100.35 73.40) scale(0.5600 0.5498)" font-size="100">1600</text>
<text transform="translate(100.35 154.15) scale(0.5600 0.5498)" font-size="100">1400</text>
<text transform="translate(100.35 234.89) scale(0.5600 0.5498)" font-size="100">1200</text>
<text transform="translate(100.35 315.64) scale(0.5600 0.5498)" font-size="100">1000</text>
<text transform="translate(128.35 396.38) scale(0.5600 0.5498)" font-size="100">800</text>
<text transform="translate(128.35 477.13) scale(0.5600 0.5498)" font-size="100">600</text>
<text transform="translate(128.35 557.87) scale(0.5600 0.5498)" font-size="100">400</text>
<text transform="translate(128.35 638.62) scale(0.5600 0.5498)" font-size="100">200</text>
<text transform="translate(184.35 719.36) scale(0.5600 0.5498)" font-size="100">0</text>
<text transform="translate(101.20 804.35) scale(0.5600 0.5496)" font-size="100">1400</text>
<text transform="translate(101.20 890.19) scale(0.5600 0.5496)" font-size="100">1200</text>
<text transform="translate(101.20 976.03) scale(0.5600 0.5496)" font-size="100">1000</text>
<text transform="translate(129.20 1061.87) scale(0.5600 0.5496)" font-size="100">800</text>
<text transform="translate(129.20 1147.71) scale(0.5600 0.5496)" font-size="100">600</text>
<text transform="translate(129.20 1233.55) scale(0.5600 0.5496)" font-size="100">400</text>
<text transform="translate(129.20 1319.39) scale(0.5600 0.5496)" font-size="100">200</text>
<text transform="translate(185.20 1405.23) scale(0.5600 0.5496)" font-size="100">0</text>
<text transform="translate(229.70 1504.15) scale(0.6720 0.6970)" font-size="100">0</text>
<text transform="translate(590.00 1504.15) scale(0.6720 0.6970)" font-size="100">200</text>
<text transform="translate(983.90 1504.15) scale(0.6720 0.6970)" font-size="100">400</text>
<text transform="translate(1377.80 1504.15) scale(0.6720 0.6970)" font-size="100">600</text>
<text transform="translate(1771.70 1504.15) scale(0.6720 0.6970)" font-size="100">800</text>
<text transform="translate(2148.80 1504.15) scale(0.6720 0.6970)" font-size="100">1000</text>
<text transform="translate(287.16 137.58) scale(0.8251 0.8199)" font-size="100">(a)</text>
<text transform="translate(278.28 828.65) scale(0.8260 0.8165)" font-size="100">(b)</text>
<text transform="translate(2130.52 127.28) scale(0.7917 0.7901)" font-size="100">S0</text>
<text transform="translate(2127.79 817.28) scale(0.7421 0.7930)" font-size="100">S3</text>
<text transform="translate(955.76 1605.23) scale(0.7802 0.7650)" font-size="100">Raman shift/cm</text>
<text transform="translate(1449.09 1585.50) scale(0.6022 0.8000)" font-size="100">−</text>
<text transform="translate(1480.97 1573.20) scale(0.4904 0.5273)" font-size="100">1</text>
<text transform="translate(91.10 1001.36) rotate(-90) scale(0.8164 0.8187)" font-size="100">Intensity/Arbitrary</text>
<text transform="translate(483.20 678.35) rotate(-90) scale(0.6217 0.6553)" font-size="100">111</text>
<text transform="translate(552.10 641.18) rotate(-90) scale(0.6205 0.6545)" font-size="100">141</text>
<text transform="translate(600.40 596.43) rotate(-90) scale(0.5941 0.5978)" font-size="100">166</text>
<text transform="translate(698.46 169.75) rotate(-90) scale(0.6330 0.6409)" font-size="100">197</text>
<text transform="translate(889.30 664.96) rotate(-90) scale(0.6643 0.6993)" font-size="100">318</text>
<text transform="translate(949.55 611.77) rotate(-90) scale(0.6254 0.6454)" font-size="100">344</text>
<text transform="translate(1082.20 541.35) rotate(-90) scale(0.6225 0.6591)" font-size="100">414</text>
<text transform="translate(1197.30 660.38) rotate(-90) scale(0.6414 0.6566)" font-size="100">472</text>
<text transform="translate(1502.65 657.70) rotate(-90) scale(0.6356 0.6498)" font-size="100">629</text>
<text transform="translate(1562.37 626.84) rotate(-90) scale(0.6217 0.6260)" font-size="100">652</text>
<text transform="translate(1776.60 618.00) rotate(-90) scale(0.6007 0.5978)" font-size="100">766</text>
<text transform="translate(743.39 1346.81) rotate(-90) scale(0.6700 0.7056)" font-size="100">245</text>
<text transform="translate(1476.59 1143.73) rotate(-90) scale(0.6427 0.7063)" font-size="100">613</text>
<text transform="translate(1599.30 871.22) rotate(-90) scale(0.6634 0.7019)" font-size="100">654</text>
<text transform="translate(1616.50 1142.00) rotate(-90) scale(0.6599 0.7019)" font-size="100">667</text>
<text transform="translate(2061.50 1314.79) rotate(-90) scale(0.6431 0.7033)" font-size="100">913</text>
</g>
</svg></body></html>
